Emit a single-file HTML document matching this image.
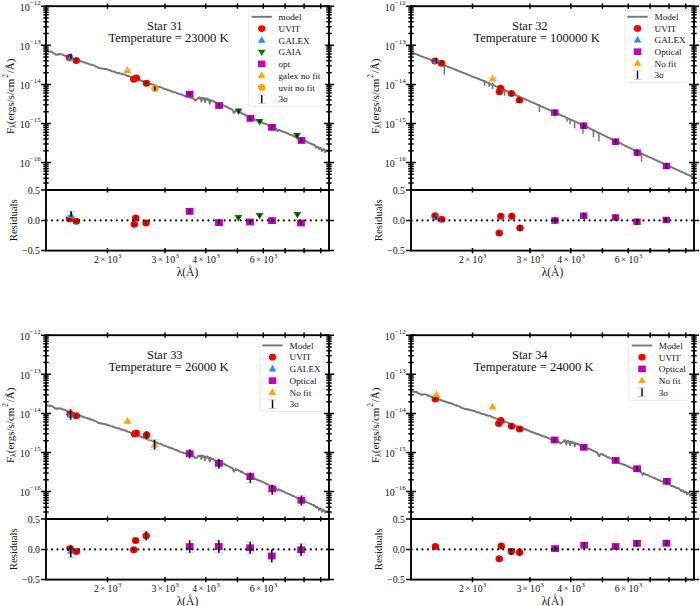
<!DOCTYPE html>
<html><head><meta charset="utf-8"><style>html,body{margin:0;padding:0;background:#fff;width:700px;height:606px;overflow:hidden}svg{display:block}</style></head>
<body><svg width="700" height="606" viewBox="0 0 700 606"><rect width="700" height="606" fill="#fff"/>
<polyline points="46.0,51.2 46.6,51.1 47.2,51.5 47.8,51.2 48.4,51.6 49.0,51.5 49.6,51.4 50.2,51.7 50.8,51.5 51.4,51.8 52.0,51.8 52.6,52.2 53.2,52.8 53.8,53.5 54.4,53.4 55.0,53.9 55.6,54.5 56.2,54.8 56.8,54.5 57.4,54.3 58.0,54.7 58.6,54.0 59.2,54.5 59.8,54.0 60.4,53.9 61.0,53.9 61.6,54.2 62.2,54.8 62.8,54.6 63.4,55.2 64.0,55.4 64.6,55.5 65.2,55.9 65.8,55.8 66.4,56.0 67.0,56.3 67.6,56.9 68.2,56.9 68.8,57.0 69.4,57.4 70.0,57.5 70.6,57.6 71.2,58.2 71.8,58.3 72.4,58.2 73.0,58.6 73.6,58.8 74.2,59.2 74.8,59.3 75.4,59.2 76.0,59.9 76.6,59.5 77.2,59.9 77.8,60.3 78.4,60.1 79.0,60.6 79.6,60.4 80.2,61.1 80.8,61.4 81.4,61.4 82.0,61.8 82.6,61.6 83.2,62.1 83.8,62.2 84.4,62.4 85.0,62.5 85.6,63.0 86.2,63.3 86.8,63.2 87.4,63.5 88.0,63.3 88.6,63.9 89.2,64.1 89.8,64.5 90.4,64.6 91.0,64.4 91.6,64.7 92.2,65.1 92.8,64.9 93.4,65.4 94.0,65.4 94.6,65.6 95.2,65.9 95.8,66.7 96.4,66.5 97.0,66.9 97.6,67.3 98.2,68.0 98.8,67.6 99.4,68.0 100.0,68.2 100.6,68.5 101.2,68.5 101.8,68.7 102.4,68.4 103.0,68.6 103.6,68.6 104.2,69.1 104.8,69.2 105.4,68.8 106.0,69.0 106.6,69.2 107.2,69.4 107.8,69.7 108.4,70.0 109.0,70.0 109.6,70.0 110.2,70.5 110.8,70.6 111.4,70.9 112.0,71.4 112.6,71.4 113.2,71.5 113.8,71.7 114.4,72.0 115.0,71.7 115.6,72.5 116.2,72.6 116.8,72.8 117.4,73.0 118.0,72.9 118.6,73.1 119.2,73.0 119.8,73.6 120.4,73.4 121.0,73.6 121.6,73.8 122.2,74.0 122.8,74.3 123.4,74.3 124.0,74.4 124.6,74.7 125.2,74.9 125.8,75.2 126.4,75.2 127.0,76.0 127.6,76.0 128.2,75.9 128.8,76.2 129.4,76.5 130.0,76.7 130.6,76.7 131.2,77.4 131.8,77.8 132.4,77.6 133.0,77.8 133.6,77.7 134.2,78.0 134.8,78.3 135.4,78.5 136.0,79.1 136.6,78.8 137.2,79.0 137.8,79.8 138.4,79.7 139.0,79.7 139.6,80.1 140.2,80.0 140.8,80.6 141.4,81.1 142.0,81.2 142.6,81.3 143.2,81.2 143.8,81.5 144.4,81.5 145.0,82.2 145.6,82.2 146.2,82.6 146.8,82.5 147.4,82.6 148.0,83.2 148.6,83.6 149.2,83.7 149.8,83.9 150.4,84.1 151.0,84.2 151.6,84.1 152.2,84.5 152.8,84.6 153.4,84.6 154.0,84.8 154.6,85.2 155.2,85.4 155.8,85.9 156.4,86.3 157.0,86.1 157.6,86.7 158.2,86.9 158.8,87.1 159.4,86.9 160.0,87.0 160.6,87.2 161.2,87.4 161.8,87.6 162.4,88.1 163.0,88.5 163.6,88.7 164.2,88.6 164.8,89.0 165.4,89.3 166.0,89.0 166.6,89.6 167.2,90.0 167.8,90.1 168.4,90.3 169.0,90.3 169.6,90.3 170.2,90.9 170.8,90.8 171.4,91.4 172.0,91.7 172.6,91.5 173.2,91.7 173.8,92.3 174.4,92.3 175.0,92.2 175.6,92.3 176.2,92.6 176.8,93.3 177.4,93.4 178.0,93.2 178.6,93.9 179.2,94.2 179.8,94.2 180.4,94.2 181.0,94.5 181.6,94.4 182.2,94.6 182.8,95.4 183.4,95.4 184.0,95.5 184.6,96.0 185.2,95.9 185.8,96.4 186.4,96.5 187.0,96.3 187.6,96.5 188.2,96.7 188.8,96.8 189.4,97.3 190.0,97.2 190.6,97.5 191.2,97.5 191.8,98.2 192.4,98.0 193.0,98.3 193.6,98.6 194.2,99.4 194.8,99.7 195.4,100.6 196.0,100.3 196.6,99.8 197.2,99.2 197.8,98.3 198.4,98.2 199.0,97.8 199.6,97.3 200.2,97.6 200.8,97.8 201.4,101.5 202.0,98.4 202.6,97.9 203.2,97.8 203.8,98.1 204.4,99.5 205.0,102.3 205.6,98.2 206.2,98.7 206.8,98.6 207.4,98.7 208.0,99.2 208.6,99.2 209.2,100.8 209.8,103.7 210.4,100.2 211.0,100.1 211.6,100.5 212.2,100.7 212.8,100.9 213.4,101.3 214.0,101.4 214.6,101.8 215.2,102.1 215.8,102.8 216.4,103.0 217.0,103.5 217.6,103.9 218.2,103.8 218.8,104.3 219.4,104.8 220.0,104.9 220.6,104.5 221.2,104.7 221.8,105.0 222.4,104.9 223.0,105.2 223.6,105.2 224.2,105.8 224.8,106.2 225.4,106.5 226.0,106.3 226.6,107.0 227.2,107.3 227.8,107.2 228.4,108.1 229.0,108.4 229.6,108.2 230.2,109.0 230.8,108.8 231.4,109.1 232.0,109.6 232.6,110.2 233.2,111.2 233.8,112.9 234.4,112.8 235.0,111.5 235.6,110.3 236.2,110.6 236.8,111.1 237.4,110.9 238.0,111.4 238.6,111.7 239.2,111.7 239.8,112.2 240.4,112.7 241.0,112.9 241.6,112.9 242.2,113.8 242.8,114.0 243.4,114.4 244.0,114.1 244.6,114.5 245.2,114.7 245.8,115.5 246.4,115.4 247.0,115.6 247.6,116.1 248.2,116.8 248.8,117.0 249.4,116.9 250.0,117.2 250.6,118.0 251.2,118.0 251.8,118.4 252.4,118.3 253.0,118.6 253.6,119.3 254.2,119.4 254.8,119.4 255.4,120.2 256.0,120.3 256.6,120.6 257.2,120.3 257.8,121.1 258.4,120.8 259.0,121.6 259.6,121.5 260.2,121.7 260.8,122.1 261.4,122.6 262.0,122.3 262.6,122.5 263.2,123.0 263.8,123.1 264.4,123.3 265.0,123.6 265.6,123.7 266.2,124.1 266.8,124.4 267.4,124.7 268.0,125.3 268.6,125.2 269.2,125.6 269.8,125.7 270.4,126.0 271.0,126.1 271.6,126.5 272.2,126.6 272.8,127.3 273.4,127.5 274.0,127.5 274.6,127.9 275.2,128.5 275.8,128.2 276.4,129.3 277.0,130.2 277.6,131.1 278.2,130.7 278.8,129.7 279.4,130.0 280.0,130.4 280.6,130.9 281.2,130.7 281.8,131.3 282.4,131.5 283.0,131.7 283.6,131.8 284.2,132.0 284.8,132.1 285.4,132.4 286.0,132.6 286.6,133.3 287.2,133.2 287.8,133.4 288.4,133.6 289.0,134.4 289.6,134.7 290.2,134.8 290.8,134.8 291.4,135.1 292.0,135.4 292.6,135.7 293.2,135.8 293.8,136.2 294.4,136.4 295.0,137.1 295.6,137.4 296.2,137.3 296.8,137.4 297.4,138.1 298.0,137.9 298.6,138.2 299.2,138.2 299.8,138.8 300.4,139.1 301.0,139.4 301.6,139.4 302.2,139.9 302.8,139.8 303.4,140.2 304.0,140.4 304.6,140.8 305.2,140.8 305.8,141.1 306.4,141.5 307.0,141.8 307.6,142.3 308.2,142.5 308.8,142.9 309.4,143.1 310.0,143.4 310.6,143.8 311.2,143.7 311.8,143.9 312.4,144.6 313.0,144.3 313.6,145.0 314.2,145.2 314.8,145.0 315.4,146.4 316.0,147.6 316.6,146.8 317.2,146.6 317.8,146.9 318.4,147.5 319.0,149.2 319.6,148.3 320.2,147.9 320.8,148.2 321.4,149.5 322.0,151.1 322.6,150.0 323.2,149.1 323.8,149.4 324.4,150.3 325.0,152.0 325.6,150.8 326.2,150.2 326.8,150.3 327.4,151.0 328.0,151.1 328.6,151.4" fill="none" stroke="#777777" stroke-width="1.9" stroke-linejoin="round"/>
<polyline points="199.0,99.1 199.5,98.8 200.0,98.6 200.5,98.4 201.0,98.6 201.5,98.7 202.0,98.8 202.5,98.9 203.0,99.0 203.5,99.1 204.0,99.2 204.5,99.3 205.0,99.5 205.5,99.6 206.0,99.7 206.5,99.8 207.0,99.9 207.5,100.0 208.0,100.1 208.5,100.3 209.0,100.5 209.5,100.7 210.0,100.9 210.5,101.1 211.0,101.3 211.5,101.5" fill="none" stroke="#777777" stroke-width="1.4"/>
<ellipse cx="69.40" cy="57.60" rx="3.75" ry="3.50" fill="#ff0000"/><line x1="69.40" y1="55.50" x2="69.40" y2="59.70" stroke="#000" stroke-width="1.5"/>
<path d="M70.90,53.19 L74.61,59.65 L67.20,59.65Z" fill="#1e90ff"/><line x1="70.90" y1="53.70" x2="70.90" y2="58.70" stroke="#000" stroke-width="1.5"/>
<ellipse cx="76.30" cy="60.40" rx="3.75" ry="3.50" fill="#ff0000"/><line x1="76.30" y1="58.30" x2="76.30" y2="62.50" stroke="#000" stroke-width="1.5"/>
<path d="M127.50,66.08 L131.40,72.88 L123.60,72.88Z" fill="#ffa500"/>
<ellipse cx="133.80" cy="79.30" rx="3.75" ry="3.50" fill="#ff0000"/><line x1="133.80" y1="77.80" x2="133.80" y2="80.80" stroke="#000" stroke-width="1.5"/>
<ellipse cx="136.40" cy="78.00" rx="3.75" ry="3.50" fill="#ff0000"/><line x1="136.40" y1="76.80" x2="136.40" y2="79.20" stroke="#000" stroke-width="1.5"/>
<ellipse cx="146.50" cy="83.30" rx="3.75" ry="3.50" fill="#ff0000"/><line x1="146.50" y1="81.20" x2="146.50" y2="85.40" stroke="#000" stroke-width="1.5"/>
<ellipse cx="154.90" cy="88.40" rx="3.75" ry="3.50" fill="#ffa500"/><line x1="154.90" y1="86.30" x2="154.90" y2="90.50" stroke="#000" stroke-width="1.5"/>
<rect x="185.70" y="90.70" width="7.80" height="6.80" fill="#bf00bf"/><line x1="189.60" y1="92.00" x2="189.60" y2="96.20" stroke="#000" stroke-width="1.5"/>
<rect x="215.20" y="102.10" width="7.80" height="6.80" fill="#bf00bf"/><line x1="219.10" y1="103.40" x2="219.10" y2="107.60" stroke="#000" stroke-width="1.5"/>
<path d="M238.60,114.99 L242.50,108.39 L234.70,108.39Z" fill="#008000"/><line x1="238.60" y1="109.10" x2="238.60" y2="112.70" stroke="#000" stroke-width="1.5"/>
<rect x="246.50" y="115.00" width="7.80" height="6.80" fill="#bf00bf"/><line x1="250.40" y1="116.30" x2="250.40" y2="120.50" stroke="#000" stroke-width="1.5"/>
<path d="M259.60,125.59 L263.50,118.99 L255.70,118.99Z" fill="#008000"/><line x1="259.60" y1="119.70" x2="259.60" y2="123.30" stroke="#000" stroke-width="1.5"/>
<rect x="268.10" y="124.00" width="7.80" height="6.80" fill="#bf00bf"/><line x1="272.00" y1="125.30" x2="272.00" y2="129.50" stroke="#000" stroke-width="1.5"/>
<path d="M297.00,139.59 L300.90,132.99 L293.10,132.99Z" fill="#008000"/><line x1="297.00" y1="133.70" x2="297.00" y2="137.30" stroke="#000" stroke-width="1.5"/>
<rect x="297.60" y="137.10" width="7.80" height="6.80" fill="#bf00bf"/><line x1="301.50" y1="138.40" x2="301.50" y2="142.60" stroke="#000" stroke-width="1.5"/>
<path d="M123.5,69.3H131.5" stroke="#ccc" stroke-width="0.8"/>
<ellipse cx="69.50" cy="218.70" rx="3.75" ry="3.50" fill="#ff0000"/><line x1="69.50" y1="217.20" x2="69.50" y2="220.20" stroke="#000" stroke-width="1.5"/>
<path d="M67.00,211.50H75.40M67.00,216.50H75.40" stroke="#c8c8c8" stroke-width="0.8"/><path d="M71.20,211.49 L74.91,217.95 L67.50,217.95Z" fill="#1e90ff"/><line x1="71.20" y1="211.50" x2="71.20" y2="216.50" stroke="#000" stroke-width="1.5"/>
<ellipse cx="76.30" cy="221.30" rx="3.75" ry="3.50" fill="#ff0000"/><line x1="76.30" y1="219.80" x2="76.30" y2="222.80" stroke="#000" stroke-width="1.5"/>
<ellipse cx="135.70" cy="217.90" rx="3.75" ry="3.50" fill="#ff0000"/><line x1="135.70" y1="216.40" x2="135.70" y2="219.40" stroke="#000" stroke-width="1.5"/>
<ellipse cx="134.30" cy="224.30" rx="3.75" ry="3.50" fill="#ff0000"/><line x1="134.30" y1="222.80" x2="134.30" y2="225.80" stroke="#000" stroke-width="1.5"/>
<ellipse cx="146.10" cy="223.10" rx="3.75" ry="3.50" fill="#ff0000"/><line x1="146.10" y1="221.00" x2="146.10" y2="225.20" stroke="#000" stroke-width="1.5"/>
<rect x="185.70" y="208.00" width="7.80" height="6.80" fill="#bf00bf"/><line x1="189.60" y1="209.30" x2="189.60" y2="213.50" stroke="#000" stroke-width="1.5"/>
<rect x="215.10" y="219.20" width="7.80" height="6.80" fill="#bf00bf"/><line x1="219.00" y1="220.50" x2="219.00" y2="224.70" stroke="#000" stroke-width="1.5"/>
<path d="M238.40,221.69 L242.30,215.09 L234.50,215.09Z" fill="#008000"/><line x1="238.40" y1="216.10" x2="238.40" y2="219.10" stroke="#000" stroke-width="1.5"/>
<rect x="246.10" y="218.60" width="7.80" height="6.80" fill="#bf00bf"/><line x1="250.00" y1="219.90" x2="250.00" y2="224.10" stroke="#000" stroke-width="1.5"/>
<path d="M259.60,219.49 L263.50,212.89 L255.70,212.89Z" fill="#008000"/><line x1="259.60" y1="213.90" x2="259.60" y2="216.90" stroke="#000" stroke-width="1.5"/>
<rect x="268.10" y="217.20" width="7.80" height="6.80" fill="#bf00bf"/><line x1="272.00" y1="218.50" x2="272.00" y2="222.70" stroke="#000" stroke-width="1.5"/>
<path d="M297.40,218.49 L301.30,211.89 L293.50,211.89Z" fill="#008000"/><line x1="297.40" y1="212.90" x2="297.40" y2="215.90" stroke="#000" stroke-width="1.5"/>
<rect x="297.10" y="219.60" width="7.80" height="6.80" fill="#bf00bf"/><line x1="301.00" y1="220.90" x2="301.00" y2="225.10" stroke="#000" stroke-width="1.5"/>
<g transform="translate(0,0)">
<rect x="46.0" y="6.2" width="283.0" height="244.4" fill="none" stroke="#000" stroke-width="1.9"/>
<line x1="46.0" y1="190.0" x2="329.0" y2="190.0" stroke="#000" stroke-width="1.9"/>
<path d="M41.0,6.20H51.0M324.0,6.20H334.0M43.3,33.53H48.7M326.3,33.53H331.7M43.3,26.64H48.7M326.3,26.64H331.7M43.3,21.76H48.7M326.3,21.76H331.7M43.3,17.97H48.7M326.3,17.97H331.7M43.3,14.87H48.7M326.3,14.87H331.7M43.3,12.26H48.7M326.3,12.26H331.7M43.3,9.99H48.7M326.3,9.99H331.7M43.3,7.99H48.7M326.3,7.99H331.7M41.0,45.30H51.0M324.0,45.30H334.0M43.3,72.63H48.7M326.3,72.63H331.7M43.3,65.74H48.7M326.3,65.74H331.7M43.3,60.86H48.7M326.3,60.86H331.7M43.3,57.07H48.7M326.3,57.07H331.7M43.3,53.97H48.7M326.3,53.97H331.7M43.3,51.36H48.7M326.3,51.36H331.7M43.3,49.09H48.7M326.3,49.09H331.7M43.3,47.09H48.7M326.3,47.09H331.7M41.0,84.40H51.0M324.0,84.40H334.0M43.3,111.73H48.7M326.3,111.73H331.7M43.3,104.84H48.7M326.3,104.84H331.7M43.3,99.96H48.7M326.3,99.96H331.7M43.3,96.17H48.7M326.3,96.17H331.7M43.3,93.07H48.7M326.3,93.07H331.7M43.3,90.46H48.7M326.3,90.46H331.7M43.3,88.19H48.7M326.3,88.19H331.7M43.3,86.19H48.7M326.3,86.19H331.7M41.0,123.50H51.0M324.0,123.50H334.0M43.3,150.83H48.7M326.3,150.83H331.7M43.3,143.94H48.7M326.3,143.94H331.7M43.3,139.06H48.7M326.3,139.06H331.7M43.3,135.27H48.7M326.3,135.27H331.7M43.3,132.17H48.7M326.3,132.17H331.7M43.3,129.56H48.7M326.3,129.56H331.7M43.3,127.29H48.7M326.3,127.29H331.7M43.3,125.29H48.7M326.3,125.29H331.7M41.0,162.60H51.0M324.0,162.60H334.0M43.3,183.04H48.7M326.3,183.04H331.7M43.3,178.16H48.7M326.3,178.16H331.7M43.3,174.37H48.7M326.3,174.37H331.7M43.3,171.27H48.7M326.3,171.27H331.7M43.3,168.66H48.7M326.3,168.66H331.7M43.3,166.39H48.7M326.3,166.39H331.7M43.3,164.39H48.7M326.3,164.39H331.7M107.50,3.6V8.8M107.50,187.4V192.6M107.50,248.0V253.2M164.99,3.6V8.8M164.99,187.4V192.6M164.99,248.0V253.2M205.79,3.6V8.8M205.79,187.4V192.6M205.79,248.0V253.2M237.43,3.6V8.8M237.43,187.4V192.6M237.43,248.0V253.2M263.28,3.6V8.8M263.28,187.4V192.6M263.28,248.0V253.2M285.14,3.6V8.8M285.14,187.4V192.6M285.14,248.0V253.2M304.07,3.6V8.8M304.07,187.4V192.6M304.07,248.0V253.2M320.77,3.6V8.8M320.77,187.4V192.6M320.77,248.0V253.2M41.0,190.0H46.0M41.0,220.4H46.0M41.0,250.6H46.0M329.0,220.4H334.0M329.0,190.0H334.0M329.0,250.6H334.0" stroke="#000" stroke-width="1.5" fill="none"/>
<text x="29.8" y="10.70" text-anchor="end" style="font-family:'Liberation Serif',serif;font-size:10px" fill="#111">10</text><text x="29.8" y="5.00" style="font-family:'Liberation Serif',serif;font-size:7px" fill="#111">−12</text>
<text x="29.8" y="49.80" text-anchor="end" style="font-family:'Liberation Serif',serif;font-size:10px" fill="#111">10</text><text x="29.8" y="44.10" style="font-family:'Liberation Serif',serif;font-size:7px" fill="#111">−13</text>
<text x="29.8" y="88.90" text-anchor="end" style="font-family:'Liberation Serif',serif;font-size:10px" fill="#111">10</text><text x="29.8" y="83.20" style="font-family:'Liberation Serif',serif;font-size:7px" fill="#111">−14</text>
<text x="29.8" y="128.00" text-anchor="end" style="font-family:'Liberation Serif',serif;font-size:10px" fill="#111">10</text><text x="29.8" y="122.30" style="font-family:'Liberation Serif',serif;font-size:7px" fill="#111">−15</text>
<text x="29.8" y="167.10" text-anchor="end" style="font-family:'Liberation Serif',serif;font-size:10px" fill="#111">10</text><text x="29.8" y="161.40" style="font-family:'Liberation Serif',serif;font-size:7px" fill="#111">−16</text>
<text x="40.0" y="193.50" text-anchor="end" style="font-family:'Liberation Serif',serif;font-size:9.9px" fill="#111">0.5</text>
<text x="40.0" y="223.90" text-anchor="end" style="font-family:'Liberation Serif',serif;font-size:9.9px" fill="#111">0.0</text>
<text x="40.0" y="254.10" text-anchor="end" style="font-family:'Liberation Serif',serif;font-size:9.9px" fill="#111">−0.5</text>
<text x="94.00" y="262.60" style="font-family:'Liberation Serif',serif;font-size:9.8px" fill="#111">2</text><text x="100.30" y="262.00" style="font-family:'Liberation Serif',serif;font-size:9px" fill="#111">×</text><text x="107.60" y="262.60" style="font-family:'Liberation Serif',serif;font-size:9.8px;letter-spacing:0.35px" fill="#111">10</text><text x="118.10" y="258.00" style="font-family:'Liberation Serif',serif;font-size:6.6px" fill="#111">3</text>
<text x="151.49" y="262.60" style="font-family:'Liberation Serif',serif;font-size:9.8px" fill="#111">3</text><text x="157.79" y="262.00" style="font-family:'Liberation Serif',serif;font-size:9px" fill="#111">×</text><text x="165.09" y="262.60" style="font-family:'Liberation Serif',serif;font-size:9.8px;letter-spacing:0.35px" fill="#111">10</text><text x="175.59" y="258.00" style="font-family:'Liberation Serif',serif;font-size:6.6px" fill="#111">3</text>
<text x="192.29" y="262.60" style="font-family:'Liberation Serif',serif;font-size:9.8px" fill="#111">4</text><text x="198.59" y="262.00" style="font-family:'Liberation Serif',serif;font-size:9px" fill="#111">×</text><text x="205.89" y="262.60" style="font-family:'Liberation Serif',serif;font-size:9.8px;letter-spacing:0.35px" fill="#111">10</text><text x="216.39" y="258.00" style="font-family:'Liberation Serif',serif;font-size:6.6px" fill="#111">3</text>
<text x="249.78" y="262.60" style="font-family:'Liberation Serif',serif;font-size:9.8px" fill="#111">6</text><text x="256.08" y="262.00" style="font-family:'Liberation Serif',serif;font-size:9px" fill="#111">×</text><text x="263.38" y="262.60" style="font-family:'Liberation Serif',serif;font-size:9.8px;letter-spacing:0.35px" fill="#111">10</text><text x="273.88" y="258.00" style="font-family:'Liberation Serif',serif;font-size:6.6px" fill="#111">3</text>
<text x="187.5" y="275.5" text-anchor="middle" style="font-family:'Liberation Serif',serif;font-size:11.5px" fill="#111">λ(Å)</text>
<text transform="translate(17,220.2) rotate(-90)" text-anchor="middle" style="font-family:'Liberation Serif',serif;font-size:10.8px" fill="#111">Residuals</text>
<text transform="translate(13.5,96.3) rotate(-90)" text-anchor="middle" style="font-family:'Liberation Serif',serif;font-size:11px" fill="#111">F<tspan dy="2.3" style="font-size:7.6px">λ</tspan><tspan dy="-2.3">(ergs/s/cm</tspan><tspan dy="-6" dx="0.8" style="font-size:7.6px">2</tspan><tspan dy="6" dx="0.8">/Å)</tspan></text>
<text x="147" y="30" style="font-family:'Liberation Serif',serif;font-size:12.45px" fill="#111">Star 31</text>
<text x="108.4" y="42" style="font-family:'Liberation Serif',serif;font-size:12.55px" fill="#111">Temperature = 23000 K</text>
<rect x="248.7" y="10.2" width="76.30000000000001" height="96.2" rx="2" fill="#fff" fill-opacity="0.85" stroke="#e6e6e6" stroke-width="0.8"/>
<line x1="251.5" y1="16.8" x2="271.9" y2="16.8" stroke="#777777" stroke-width="1.9"/>
<text x="278.5" y="20.1" style="font-family:'Liberation Serif',serif;font-size:9.2px" fill="#111">model</text>
<ellipse cx="261.70" cy="28.57" rx="3.64" ry="3.40" fill="#ff0000"/>
<text x="278.5" y="31.87" style="font-family:'Liberation Serif',serif;font-size:9.2px" fill="#111">UVIT</text>
<path d="M261.70,36.25 L265.48,42.85 L257.92,42.85Z" fill="#1e90ff"/>
<text x="278.5" y="43.64" style="font-family:'Liberation Serif',serif;font-size:9.2px" fill="#111">GALEX</text>
<path d="M261.70,56.08 L265.48,49.68 L257.92,49.68Z" fill="#008000"/>
<text x="278.5" y="55.41" style="font-family:'Liberation Serif',serif;font-size:9.2px" fill="#111">GAIA</text>
<rect x="257.92" y="60.58" width="7.57" height="6.60" fill="#bf00bf"/>
<text x="278.5" y="67.17999999999999" style="font-family:'Liberation Serif',serif;font-size:9.2px" fill="#111">opt</text>
<path d="M261.70,71.56 L265.48,78.16 L257.92,78.16Z" fill="#ffa500"/>
<text x="278.5" y="78.94999999999999" style="font-family:'Liberation Serif',serif;font-size:9.2px" fill="#111">galex no fit</text>
<ellipse cx="261.70" cy="87.42" rx="3.64" ry="3.40" fill="#ffa500"/>
<text x="278.5" y="90.72" style="font-family:'Liberation Serif',serif;font-size:9.2px" fill="#111">uvit no fit</text>
<line x1="261.7" y1="94.89" x2="261.7" y2="103.49" stroke="#000" stroke-width="1.4"/><path d="M257.7,94.89H265.7M257.7,103.49H265.7" stroke="#bbb" stroke-width="0.8"/>
<text x="278.5" y="102.49" style="font-family:'Liberation Serif',serif;font-size:9.2px" fill="#111">3σ</text>
</g>
<polyline points="411.0,52.1 411.6,52.4 412.2,52.6 412.8,52.7 413.4,53.1 414.0,53.4 414.6,53.5 415.2,53.8 415.8,54.1 416.4,54.1 417.0,54.6 417.6,54.6 418.2,54.8 418.8,55.1 419.4,55.5 420.0,55.6 420.6,56.0 421.2,56.3 421.8,56.4 422.4,56.6 423.0,56.9 423.6,57.2 424.2,57.4 424.8,57.6 425.4,57.9 426.0,57.9 426.6,58.2 427.2,58.5 427.8,58.8 428.4,58.9 429.0,59.3 429.6,59.3 430.2,59.6 430.8,59.9 431.4,60.2 432.0,60.5 432.6,60.7 433.2,60.8 433.8,61.2 434.4,61.4 435.0,61.6 435.6,61.8 436.2,62.2 436.8,62.3 437.4,62.7 438.0,62.9 438.6,62.9 439.2,63.3 439.8,63.6 440.4,63.9 441.0,64.0 441.6,64.2 442.2,64.4 442.8,64.9 443.4,64.9 444.0,65.2 444.6,65.3 445.2,65.7 445.8,66.0 446.4,66.0 447.0,66.5 447.6,66.6 448.2,67.0 448.8,67.2 449.4,67.3 450.0,67.7 450.6,67.8 451.2,67.9 451.8,68.1 452.4,68.5 453.0,68.7 453.6,68.9 454.2,69.1 454.8,69.4 455.4,69.7 456.0,70.1 456.6,70.0 457.2,70.5 457.8,70.8 458.4,70.8 459.0,71.3 459.6,71.4 460.2,71.7 460.8,71.8 461.4,72.1 462.0,72.3 462.6,72.7 463.2,72.8 463.8,73.0 464.4,73.3 465.0,73.4 465.6,73.6 466.2,73.9 466.8,74.3 467.4,74.4 468.0,74.8 468.6,74.9 469.2,75.1 469.8,75.4 470.4,75.6 471.0,75.9 471.6,76.3 472.2,76.5 472.8,76.7 473.4,76.9 474.0,77.2 474.6,77.5 475.2,77.6 475.8,77.9 476.4,77.9 477.0,78.3 477.6,78.5 478.2,78.8 478.8,79.0 479.4,79.2 480.0,79.3 480.6,79.9 481.2,79.9 481.8,80.2 482.4,80.4 483.0,80.7 483.6,81.1 484.2,81.4 484.8,81.4 485.4,81.8 486.0,82.0 486.6,82.3 487.2,82.5 487.8,82.7 488.4,83.0 489.0,83.2 489.6,83.7 490.2,83.8 490.8,84.0 491.4,84.5 492.0,84.7 492.6,84.8 493.2,85.0 493.8,85.3 494.4,85.5 495.0,85.8 495.6,86.0 496.2,86.3 496.8,86.6 497.4,86.9 498.0,87.3 498.6,87.5 499.2,87.6 499.8,87.9 500.4,88.2 501.0,88.4 501.6,88.7 502.2,88.8 502.8,89.2 503.4,89.7 504.0,89.7 504.6,90.1 505.2,90.4 505.8,90.7 506.4,90.8 507.0,91.0 507.6,91.3 508.2,91.6 508.8,91.9 509.4,92.3 510.0,92.6 510.6,92.8 511.2,92.8 511.8,93.1 512.4,93.6 513.0,93.9 513.6,94.1 514.2,94.4 514.8,94.4 515.4,94.8 516.0,95.3 516.6,95.5 517.2,95.8 517.8,96.1 518.4,96.1 519.0,96.3 519.6,96.6 520.2,97.0 520.8,97.3 521.4,97.7 522.0,97.9 522.6,98.1 523.2,98.4 523.8,98.6 524.4,98.9 525.0,99.0 525.6,99.5 526.2,99.6 526.8,100.1 527.4,100.2 528.0,100.4 528.6,100.6 529.2,100.9 529.8,101.3 530.4,101.6 531.0,101.7 531.6,101.9 532.2,102.4 532.8,102.6 533.4,102.8 534.0,103.1 534.6,103.4 535.2,103.5 535.8,103.9 536.4,104.2 537.0,104.6 537.6,104.8 538.2,105.1 538.8,105.3 539.4,105.5 540.0,105.7 540.6,106.2 541.2,106.4 541.8,106.6 542.4,106.7 543.0,107.2 543.6,107.5 544.2,107.7 544.8,107.9 545.4,108.3 546.0,108.6 546.6,108.7 547.2,108.9 547.8,109.2 548.4,109.5 549.0,109.9 549.6,110.0 550.2,110.5 550.8,110.7 551.4,110.9 552.0,111.1 552.6,111.6 553.2,111.6 553.8,112.1 554.4,112.2 555.0,112.4 555.6,112.8 556.2,113.0 556.8,113.5 557.4,113.6 558.0,113.8 558.6,114.0 559.2,114.4 559.8,114.7 560.4,115.1 561.0,115.1 561.6,115.5 562.2,115.7 562.8,116.2 563.4,116.2 564.0,116.4 564.6,116.7 565.2,117.1 565.8,117.5 566.4,117.8 567.0,118.0 567.6,118.4 568.2,118.6 568.8,118.7 569.4,118.9 570.0,119.4 570.6,119.6 571.2,119.7 571.8,120.2 572.4,120.3 573.0,120.6 573.6,120.9 574.2,121.1 574.8,121.3 575.4,121.7 576.0,122.0 576.6,122.4 577.2,122.4 577.8,123.0 578.4,123.0 579.0,123.3 579.6,123.7 580.2,124.0 580.8,124.2 581.4,124.3 582.0,124.7 582.6,125.0 583.2,125.4 583.8,125.5 584.4,125.8 585.0,126.3 585.6,126.3 586.2,126.7 586.8,127.1 587.4,127.4 588.0,127.5 588.6,127.7 589.2,128.0 589.8,128.6 590.4,128.7 591.0,129.1 591.6,129.5 592.2,129.6 592.8,129.9 593.4,130.4 594.0,130.6 594.6,130.7 595.2,131.2 595.8,131.3 596.4,131.6 597.0,131.8 597.6,132.4 598.2,132.7 598.8,132.9 599.4,133.3 600.0,133.3 600.6,133.7 601.2,134.0 601.8,134.5 602.4,134.8 603.0,134.9 603.6,135.1 604.2,135.5 604.8,135.8 605.4,136.2 606.0,136.3 606.6,136.8 607.2,137.0 607.8,137.3 608.4,137.6 609.0,137.9 609.6,138.1 610.2,138.4 610.8,138.7 611.4,139.1 612.0,139.2 612.6,139.5 613.2,140.0 613.8,140.1 614.4,140.3 615.0,140.6 615.6,141.1 616.2,141.3 616.8,141.8 617.4,142.0 618.0,142.4 618.6,142.4 619.2,142.7 619.8,143.0 620.4,143.4 621.0,143.7 621.6,144.0 622.2,144.2 622.8,144.5 623.4,144.9 624.0,145.2 624.6,145.5 625.2,145.8 625.8,146.1 626.4,146.2 627.0,146.7 627.6,146.8 628.2,147.2 628.8,147.5 629.4,147.9 630.0,148.0 630.6,148.3 631.2,148.6 631.8,148.9 632.4,149.4 633.0,149.6 633.6,149.8 634.2,150.1 634.8,150.6 635.4,150.7 636.0,150.9 636.6,151.4 637.2,151.6 637.8,152.0 638.4,152.0 639.0,152.4 639.6,152.8 640.2,153.1 640.8,153.4 641.4,153.4 642.0,153.7 642.6,153.9 643.2,154.2 643.8,154.8 644.4,154.9 645.0,155.3 645.6,155.4 646.2,155.8 646.8,156.0 647.4,156.2 648.0,156.6 648.6,156.9 649.2,157.0 649.8,157.4 650.4,157.7 651.0,157.8 651.6,158.1 652.2,158.3 652.8,158.6 653.4,158.9 654.0,159.3 654.6,159.6 655.2,159.7 655.8,160.0 656.4,160.3 657.0,160.7 657.6,160.8 658.2,161.1 658.8,161.4 659.4,161.8 660.0,162.0 660.6,162.2 661.2,162.5 661.8,162.8 662.4,163.1 663.0,163.4 663.6,163.6 664.2,163.8 664.8,164.3 665.4,164.5 666.0,164.7 666.6,165.0 667.2,165.5 667.8,165.5 668.4,165.9 669.0,166.1 669.6,166.4 670.2,166.8 670.8,167.1 671.4,167.2 672.0,167.4 672.6,167.8 673.2,168.0 673.8,168.2 674.4,168.7 675.0,168.8 675.6,169.2 676.2,169.4 676.8,169.8 677.4,169.9 678.0,170.1 678.6,170.4 679.2,170.8 679.8,171.1 680.4,171.4 681.0,171.5 681.6,171.9 682.2,172.1 682.8,172.4 683.4,172.6 684.0,172.9 684.6,173.2 685.2,173.6 685.8,173.7 686.4,174.0 687.0,174.4 687.6,174.7 688.2,174.8 688.8,175.0 689.4,175.5 690.0,175.8 690.6,175.9 691.2,176.1 691.8,176.6 692.4,176.7 693.0,177.2 693.6,177.4" fill="none" stroke="#777777" stroke-width="1.9" stroke-linejoin="round"/>
<line x1="444.3" y1="64" x2="444.3" y2="74.7" stroke="#777777" stroke-width="1.5"/><line x1="484.6" y1="80" x2="484.6" y2="86" stroke="#777777" stroke-width="1.5"/><line x1="489.1" y1="82" x2="489.1" y2="86.9" stroke="#777777" stroke-width="1.5"/><line x1="492.6" y1="83" x2="492.6" y2="88.9" stroke="#777777" stroke-width="1.5"/><line x1="504.6" y1="89" x2="504.6" y2="95.7" stroke="#777777" stroke-width="1.5"/><line x1="539.4" y1="104" x2="539.4" y2="112" stroke="#777777" stroke-width="1.5"/><line x1="567.1" y1="118" x2="567.1" y2="121.7" stroke="#777777" stroke-width="1.5"/><line x1="570" y1="119" x2="570" y2="124" stroke="#777777" stroke-width="1.5"/><line x1="574.6" y1="121" x2="574.6" y2="128.3" stroke="#777777" stroke-width="1.5"/><line x1="582.9" y1="124" x2="582.9" y2="133.7" stroke="#777777" stroke-width="1.5"/><line x1="593.4" y1="129" x2="593.4" y2="137.1" stroke="#777777" stroke-width="1.5"/><line x1="598.9" y1="132" x2="598.9" y2="141.4" stroke="#777777" stroke-width="1.5"/><line x1="641.6" y1="153" x2="641.6" y2="161.7" stroke="#777777" stroke-width="1.5"/>
<ellipse cx="435.00" cy="61.00" rx="3.75" ry="3.50" fill="#ff0000"/><line x1="435.00" y1="58.90" x2="435.00" y2="63.10" stroke="#000" stroke-width="1.5"/>
<path d="M436.40,57.19 L440.10,63.65 L432.69,63.65Z" fill="#1e90ff"/><line x1="436.40" y1="58.20" x2="436.40" y2="63.20" stroke="#000" stroke-width="1.5"/>
<ellipse cx="441.60" cy="63.30" rx="3.75" ry="3.50" fill="#ff0000"/><line x1="441.60" y1="61.20" x2="441.60" y2="65.40" stroke="#000" stroke-width="1.5"/>
<path d="M492.60,74.58 L496.50,81.38 L488.70,81.38Z" fill="#ffa500"/>
<ellipse cx="500.60" cy="88.30" rx="3.75" ry="3.50" fill="#ff0000"/><line x1="500.60" y1="86.50" x2="500.60" y2="90.10" stroke="#000" stroke-width="1.5"/>
<ellipse cx="499.40" cy="91.70" rx="3.75" ry="3.50" fill="#ff0000"/><line x1="499.40" y1="89.90" x2="499.40" y2="93.50" stroke="#000" stroke-width="1.5"/>
<ellipse cx="511.40" cy="93.40" rx="3.75" ry="3.50" fill="#ff0000"/><line x1="511.40" y1="91.30" x2="511.40" y2="95.50" stroke="#000" stroke-width="1.5"/>
<ellipse cx="519.40" cy="100.30" rx="3.75" ry="3.50" fill="#ff0000"/><line x1="519.40" y1="97.80" x2="519.40" y2="102.80" stroke="#000" stroke-width="1.5"/>
<rect x="551.09" y="109.37" width="7.41" height="6.46" fill="#bf00bf"/><line x1="554.80" y1="109.60" x2="554.80" y2="115.60" stroke="#000" stroke-width="1.5"/>
<rect x="580.00" y="122.47" width="7.41" height="6.46" fill="#bf00bf"/><line x1="583.70" y1="122.70" x2="583.70" y2="128.70" stroke="#000" stroke-width="1.5"/>
<rect x="611.89" y="138.47" width="7.41" height="6.46" fill="#bf00bf"/><line x1="615.60" y1="138.70" x2="615.60" y2="144.70" stroke="#000" stroke-width="1.5"/>
<rect x="633.50" y="149.37" width="7.41" height="6.46" fill="#bf00bf"/><line x1="637.20" y1="149.60" x2="637.20" y2="155.60" stroke="#000" stroke-width="1.5"/>
<rect x="662.79" y="162.77" width="7.41" height="6.46" fill="#bf00bf"/><line x1="666.50" y1="163.00" x2="666.50" y2="169.00" stroke="#000" stroke-width="1.5"/>
<path d="M488.6,77.4H496.6M515.4,103.5H523.4" stroke="#ccc" stroke-width="0.8"/>
<ellipse cx="435.00" cy="215.75" rx="3.75" ry="3.50" fill="#ff0000"/><line x1="435.00" y1="214.25" x2="435.00" y2="217.25" stroke="#000" stroke-width="1.5"/>
<path d="M436.25,214.21 L439.76,220.33 L432.74,220.33Z" fill="#1e90ff"/><line x1="436.25" y1="216.50" x2="436.25" y2="219.50" stroke="#000" stroke-width="1.5"/>
<ellipse cx="441.75" cy="219.25" rx="3.75" ry="3.50" fill="#ff0000"/><line x1="441.75" y1="218.05" x2="441.75" y2="220.45" stroke="#000" stroke-width="1.5"/>
<ellipse cx="500.75" cy="216.25" rx="3.75" ry="3.50" fill="#ff0000"/><line x1="500.75" y1="214.25" x2="500.75" y2="218.25" stroke="#000" stroke-width="1.5"/>
<ellipse cx="499.25" cy="233.00" rx="3.75" ry="3.50" fill="#ff0000"/><line x1="499.25" y1="231.50" x2="499.25" y2="234.50" stroke="#000" stroke-width="1.5"/>
<ellipse cx="511.75" cy="216.25" rx="3.75" ry="3.50" fill="#ff0000"/><line x1="511.75" y1="214.25" x2="511.75" y2="218.25" stroke="#000" stroke-width="1.5"/>
<ellipse cx="520.00" cy="228.00" rx="3.75" ry="3.50" fill="#ff0000"/><line x1="520.00" y1="225.00" x2="520.00" y2="231.00" stroke="#000" stroke-width="1.5"/>
<rect x="551.29" y="217.27" width="7.41" height="6.46" fill="#bf00bf"/><line x1="555.00" y1="217.50" x2="555.00" y2="223.50" stroke="#000" stroke-width="1.5"/>
<rect x="580.04" y="212.52" width="7.41" height="6.46" fill="#bf00bf"/><line x1="583.75" y1="212.75" x2="583.75" y2="218.75" stroke="#000" stroke-width="1.5"/>
<rect x="611.79" y="214.27" width="7.41" height="6.46" fill="#bf00bf"/><line x1="615.50" y1="214.50" x2="615.50" y2="220.50" stroke="#000" stroke-width="1.5"/>
<rect x="633.29" y="218.52" width="7.41" height="6.46" fill="#bf00bf"/><line x1="637.00" y1="218.75" x2="637.00" y2="224.75" stroke="#000" stroke-width="1.5"/>
<rect x="662.54" y="216.77" width="7.41" height="6.46" fill="#bf00bf"/><line x1="666.25" y1="217.00" x2="666.25" y2="223.00" stroke="#000" stroke-width="1.5"/>
<g transform="translate(365,0)">
<rect x="46.0" y="6.2" width="283.0" height="244.4" fill="none" stroke="#000" stroke-width="1.9"/>
<line x1="46.0" y1="190.0" x2="329.0" y2="190.0" stroke="#000" stroke-width="1.9"/>
<path d="M41.0,6.20H51.0M324.0,6.20H334.0M43.3,33.53H48.7M326.3,33.53H331.7M43.3,26.64H48.7M326.3,26.64H331.7M43.3,21.76H48.7M326.3,21.76H331.7M43.3,17.97H48.7M326.3,17.97H331.7M43.3,14.87H48.7M326.3,14.87H331.7M43.3,12.26H48.7M326.3,12.26H331.7M43.3,9.99H48.7M326.3,9.99H331.7M43.3,7.99H48.7M326.3,7.99H331.7M41.0,45.30H51.0M324.0,45.30H334.0M43.3,72.63H48.7M326.3,72.63H331.7M43.3,65.74H48.7M326.3,65.74H331.7M43.3,60.86H48.7M326.3,60.86H331.7M43.3,57.07H48.7M326.3,57.07H331.7M43.3,53.97H48.7M326.3,53.97H331.7M43.3,51.36H48.7M326.3,51.36H331.7M43.3,49.09H48.7M326.3,49.09H331.7M43.3,47.09H48.7M326.3,47.09H331.7M41.0,84.40H51.0M324.0,84.40H334.0M43.3,111.73H48.7M326.3,111.73H331.7M43.3,104.84H48.7M326.3,104.84H331.7M43.3,99.96H48.7M326.3,99.96H331.7M43.3,96.17H48.7M326.3,96.17H331.7M43.3,93.07H48.7M326.3,93.07H331.7M43.3,90.46H48.7M326.3,90.46H331.7M43.3,88.19H48.7M326.3,88.19H331.7M43.3,86.19H48.7M326.3,86.19H331.7M41.0,123.50H51.0M324.0,123.50H334.0M43.3,150.83H48.7M326.3,150.83H331.7M43.3,143.94H48.7M326.3,143.94H331.7M43.3,139.06H48.7M326.3,139.06H331.7M43.3,135.27H48.7M326.3,135.27H331.7M43.3,132.17H48.7M326.3,132.17H331.7M43.3,129.56H48.7M326.3,129.56H331.7M43.3,127.29H48.7M326.3,127.29H331.7M43.3,125.29H48.7M326.3,125.29H331.7M41.0,162.60H51.0M324.0,162.60H334.0M43.3,183.04H48.7M326.3,183.04H331.7M43.3,178.16H48.7M326.3,178.16H331.7M43.3,174.37H48.7M326.3,174.37H331.7M43.3,171.27H48.7M326.3,171.27H331.7M43.3,168.66H48.7M326.3,168.66H331.7M43.3,166.39H48.7M326.3,166.39H331.7M43.3,164.39H48.7M326.3,164.39H331.7M107.50,3.6V8.8M107.50,187.4V192.6M107.50,248.0V253.2M164.99,3.6V8.8M164.99,187.4V192.6M164.99,248.0V253.2M205.79,3.6V8.8M205.79,187.4V192.6M205.79,248.0V253.2M237.43,3.6V8.8M237.43,187.4V192.6M237.43,248.0V253.2M263.28,3.6V8.8M263.28,187.4V192.6M263.28,248.0V253.2M285.14,3.6V8.8M285.14,187.4V192.6M285.14,248.0V253.2M304.07,3.6V8.8M304.07,187.4V192.6M304.07,248.0V253.2M320.77,3.6V8.8M320.77,187.4V192.6M320.77,248.0V253.2M41.0,190.0H46.0M41.0,220.4H46.0M41.0,250.6H46.0M329.0,220.4H334.0M329.0,190.0H334.0M329.0,250.6H334.0" stroke="#000" stroke-width="1.5" fill="none"/>
<text x="29.8" y="10.70" text-anchor="end" style="font-family:'Liberation Serif',serif;font-size:10px" fill="#111">10</text><text x="29.8" y="5.00" style="font-family:'Liberation Serif',serif;font-size:7px" fill="#111">−12</text>
<text x="29.8" y="49.80" text-anchor="end" style="font-family:'Liberation Serif',serif;font-size:10px" fill="#111">10</text><text x="29.8" y="44.10" style="font-family:'Liberation Serif',serif;font-size:7px" fill="#111">−13</text>
<text x="29.8" y="88.90" text-anchor="end" style="font-family:'Liberation Serif',serif;font-size:10px" fill="#111">10</text><text x="29.8" y="83.20" style="font-family:'Liberation Serif',serif;font-size:7px" fill="#111">−14</text>
<text x="29.8" y="128.00" text-anchor="end" style="font-family:'Liberation Serif',serif;font-size:10px" fill="#111">10</text><text x="29.8" y="122.30" style="font-family:'Liberation Serif',serif;font-size:7px" fill="#111">−15</text>
<text x="29.8" y="167.10" text-anchor="end" style="font-family:'Liberation Serif',serif;font-size:10px" fill="#111">10</text><text x="29.8" y="161.40" style="font-family:'Liberation Serif',serif;font-size:7px" fill="#111">−16</text>
<text x="40.0" y="193.50" text-anchor="end" style="font-family:'Liberation Serif',serif;font-size:9.9px" fill="#111">0.5</text>
<text x="40.0" y="223.90" text-anchor="end" style="font-family:'Liberation Serif',serif;font-size:9.9px" fill="#111">0.0</text>
<text x="40.0" y="254.10" text-anchor="end" style="font-family:'Liberation Serif',serif;font-size:9.9px" fill="#111">−0.5</text>
<text x="94.00" y="262.60" style="font-family:'Liberation Serif',serif;font-size:9.8px" fill="#111">2</text><text x="100.30" y="262.00" style="font-family:'Liberation Serif',serif;font-size:9px" fill="#111">×</text><text x="107.60" y="262.60" style="font-family:'Liberation Serif',serif;font-size:9.8px;letter-spacing:0.35px" fill="#111">10</text><text x="118.10" y="258.00" style="font-family:'Liberation Serif',serif;font-size:6.6px" fill="#111">3</text>
<text x="151.49" y="262.60" style="font-family:'Liberation Serif',serif;font-size:9.8px" fill="#111">3</text><text x="157.79" y="262.00" style="font-family:'Liberation Serif',serif;font-size:9px" fill="#111">×</text><text x="165.09" y="262.60" style="font-family:'Liberation Serif',serif;font-size:9.8px;letter-spacing:0.35px" fill="#111">10</text><text x="175.59" y="258.00" style="font-family:'Liberation Serif',serif;font-size:6.6px" fill="#111">3</text>
<text x="192.29" y="262.60" style="font-family:'Liberation Serif',serif;font-size:9.8px" fill="#111">4</text><text x="198.59" y="262.00" style="font-family:'Liberation Serif',serif;font-size:9px" fill="#111">×</text><text x="205.89" y="262.60" style="font-family:'Liberation Serif',serif;font-size:9.8px;letter-spacing:0.35px" fill="#111">10</text><text x="216.39" y="258.00" style="font-family:'Liberation Serif',serif;font-size:6.6px" fill="#111">3</text>
<text x="249.78" y="262.60" style="font-family:'Liberation Serif',serif;font-size:9.8px" fill="#111">6</text><text x="256.08" y="262.00" style="font-family:'Liberation Serif',serif;font-size:9px" fill="#111">×</text><text x="263.38" y="262.60" style="font-family:'Liberation Serif',serif;font-size:9.8px;letter-spacing:0.35px" fill="#111">10</text><text x="273.88" y="258.00" style="font-family:'Liberation Serif',serif;font-size:6.6px" fill="#111">3</text>
<text x="187.5" y="275.5" text-anchor="middle" style="font-family:'Liberation Serif',serif;font-size:11.5px" fill="#111">λ(Å)</text>
<text transform="translate(17,220.2) rotate(-90)" text-anchor="middle" style="font-family:'Liberation Serif',serif;font-size:10.8px" fill="#111">Residuals</text>
<text transform="translate(13.5,96.3) rotate(-90)" text-anchor="middle" style="font-family:'Liberation Serif',serif;font-size:11px" fill="#111">F<tspan dy="2.3" style="font-size:7.6px">λ</tspan><tspan dy="-2.3">(ergs/s/cm</tspan><tspan dy="-6" dx="0.8" style="font-size:7.6px">2</tspan><tspan dy="6" dx="0.8">/Å)</tspan></text>
<text x="147" y="30" style="font-family:'Liberation Serif',serif;font-size:12.45px" fill="#111">Star 32</text>
<text x="108.4" y="42" style="font-family:'Liberation Serif',serif;font-size:12.55px" fill="#111">Temperature = 100000 K</text>
<rect x="260" y="10.5" width="64.20000000000005" height="72.0" rx="2" fill="#fff" fill-opacity="0.85" stroke="#e6e6e6" stroke-width="0.8"/>
<line x1="262.3" y1="16.75" x2="282.7" y2="16.75" stroke="#777777" stroke-width="1.9"/>
<text x="289.5" y="20.05" style="font-family:'Liberation Serif',serif;font-size:9.2px" fill="#111">Model</text>
<ellipse cx="272.50" cy="28.40" rx="3.64" ry="3.40" fill="#ff0000"/>
<text x="289.5" y="31.7" style="font-family:'Liberation Serif',serif;font-size:9.2px" fill="#111">UVIT</text>
<path d="M272.50,35.96 L276.28,42.56 L268.72,42.56Z" fill="#1e90ff"/>
<text x="289.5" y="43.349999999999994" style="font-family:'Liberation Serif',serif;font-size:9.2px" fill="#111">GALEX</text>
<rect x="268.72" y="48.40" width="7.57" height="6.60" fill="#bf00bf"/>
<text x="289.5" y="55.0" style="font-family:'Liberation Serif',serif;font-size:9.2px" fill="#111">Optical</text>
<path d="M272.50,59.26 L276.28,65.86 L268.72,65.86Z" fill="#ffa500"/>
<text x="289.5" y="66.65" style="font-family:'Liberation Serif',serif;font-size:9.2px" fill="#111">No fit</text>
<line x1="272.5" y1="70.7" x2="272.5" y2="79.3" stroke="#000" stroke-width="1.4"/><path d="M268.5,70.7H276.5M268.5,79.3H276.5" stroke="#bbb" stroke-width="0.8"/>
<text x="289.5" y="78.3" style="font-family:'Liberation Serif',serif;font-size:9.2px" fill="#111">3σ</text>
</g>
<polyline points="46.0,405.5 46.6,405.1 47.2,405.7 47.8,405.3 48.4,405.5 49.0,405.9 49.6,406.0 50.2,405.6 50.8,405.7 51.4,405.9 52.0,406.2 52.6,406.5 53.2,406.8 53.8,407.2 54.4,408.0 55.0,408.5 55.6,408.3 56.2,408.7 56.8,408.8 57.4,408.3 58.0,408.8 58.6,408.3 59.2,408.6 59.8,408.5 60.4,408.5 61.0,408.3 61.6,408.6 62.2,409.0 62.8,409.2 63.4,409.6 64.0,409.7 64.6,409.9 65.2,409.9 65.8,410.6 66.4,410.7 67.0,410.8 67.6,411.4 68.2,411.6 68.8,411.6 69.4,411.6 70.0,412.0 70.6,412.0 71.2,412.2 71.8,412.6 72.4,412.6 73.0,413.0 73.6,413.3 74.2,413.2 74.8,413.8 75.4,413.7 76.0,414.3 76.6,414.6 77.2,414.6 77.8,414.5 78.4,415.0 79.0,415.1 79.6,415.8 80.2,415.4 80.8,416.1 81.4,416.4 82.0,416.5 82.6,416.7 83.2,416.5 83.8,417.3 84.4,417.1 85.0,417.7 85.6,417.9 86.2,417.6 86.8,418.2 87.4,418.5 88.0,418.1 88.6,418.5 89.2,419.0 89.8,418.8 90.4,419.6 91.0,419.3 91.6,419.9 92.2,419.7 92.8,420.1 93.4,420.6 94.0,420.4 94.6,420.7 95.2,421.2 95.8,421.4 96.4,421.5 97.0,421.9 97.6,422.2 98.2,423.0 98.8,423.1 99.4,423.4 100.0,423.0 100.6,423.5 101.2,423.2 101.8,423.6 102.4,423.7 103.0,423.7 103.6,424.1 104.2,424.0 104.8,424.1 105.4,424.5 106.0,424.1 106.6,424.9 107.2,424.9 107.8,424.9 108.4,425.4 109.0,425.2 109.6,425.9 110.2,425.9 110.8,425.9 111.4,426.4 112.0,426.4 112.6,426.4 113.2,427.0 113.8,426.7 114.4,427.4 115.0,427.2 115.6,427.7 116.2,428.1 116.8,428.1 117.4,428.3 118.0,428.3 118.6,428.2 119.2,428.4 119.8,428.7 120.4,429.2 121.0,429.3 121.6,429.6 122.2,430.0 122.8,429.7 123.4,430.0 124.0,430.5 124.6,430.2 125.2,430.4 125.8,430.8 126.4,430.9 127.0,431.3 127.6,431.4 128.2,431.9 128.8,432.1 129.4,432.1 130.0,432.6 130.6,432.7 131.2,432.7 131.8,433.5 132.4,433.2 133.0,433.4 133.6,433.6 134.2,434.2 134.8,434.6 135.4,434.8 136.0,434.7 136.6,434.9 137.2,434.9 137.8,435.6 138.4,435.7 139.0,435.8 139.6,436.3 140.2,436.3 140.8,436.9 141.4,437.0 142.0,436.9 142.6,437.6 143.2,437.2 143.8,437.8 144.4,437.9 145.0,438.0 145.6,438.1 146.2,438.9 146.8,438.5 147.4,439.2 148.0,439.7 148.6,439.3 149.2,439.6 149.8,440.1 150.4,440.3 151.0,440.6 151.6,440.9 152.2,440.7 152.8,441.0 153.4,441.2 154.0,441.3 154.6,442.1 155.2,442.3 155.8,442.5 156.4,442.2 157.0,443.0 157.6,443.2 158.2,443.2 158.8,443.6 159.4,443.6 160.0,443.7 160.6,443.8 161.2,444.2 161.8,444.3 162.4,444.7 163.0,445.2 163.6,445.4 164.2,445.7 164.8,445.9 165.4,445.8 166.0,446.2 166.6,446.4 167.2,446.8 167.8,446.9 168.4,446.9 169.0,447.4 169.6,447.9 170.2,447.6 170.8,448.3 171.4,447.9 172.0,448.3 172.6,448.5 173.2,449.1 173.8,449.4 174.4,449.5 175.0,449.5 175.6,450.1 176.2,449.9 176.8,450.1 177.4,450.8 178.0,450.8 178.6,451.1 179.2,451.3 179.8,451.7 180.4,451.6 181.0,452.1 181.6,452.2 182.2,452.6 182.8,452.5 183.4,452.9 184.0,453.0 184.6,453.1 185.2,453.2 185.8,453.7 186.4,453.6 187.0,454.3 187.6,454.0 188.2,454.1 188.8,454.3 189.4,455.1 190.0,454.9 190.6,455.0 191.2,455.1 191.8,455.3 192.4,455.9 193.0,456.1 193.6,456.4 194.2,457.1 194.8,457.2 195.4,458.1 196.0,458.0 196.6,457.8 197.2,457.2 197.8,456.8 198.4,455.8 199.0,456.1 199.6,455.8 200.2,455.5 200.8,455.6 201.4,459.2 202.0,455.9 202.6,455.4 203.2,456.1 203.8,456.2 204.4,457.5 205.0,460.3 205.6,456.6 206.2,456.5 206.8,456.5 207.4,456.6 208.0,457.3 208.6,457.1 209.2,458.7 209.8,461.5 210.4,457.7 211.0,458.1 211.6,458.4 212.2,459.0 212.8,459.0 213.4,459.2 214.0,459.9 214.6,460.0 215.2,460.6 215.8,460.8 216.4,460.7 217.0,461.4 217.6,461.8 218.2,462.4 218.8,462.5 219.4,462.9 220.0,463.0 220.6,462.9 221.2,463.5 221.8,463.2 222.4,463.8 223.0,463.5 223.6,463.6 224.2,463.9 224.8,464.6 225.4,465.0 226.0,464.7 226.6,465.3 227.2,465.6 227.8,466.2 228.4,466.1 229.0,466.6 229.6,466.8 230.2,467.4 230.8,467.3 231.4,468.0 232.0,467.7 232.6,468.4 233.2,470.2 233.8,471.6 234.4,471.1 235.0,470.4 235.6,468.9 236.2,469.7 236.8,469.8 237.4,470.1 238.0,470.2 238.6,470.3 239.2,470.7 239.8,471.0 240.4,471.7 241.0,471.4 241.6,472.3 242.2,472.0 242.8,472.4 243.4,472.8 244.0,473.5 244.6,473.6 245.2,473.8 245.8,474.5 246.4,474.3 247.0,474.8 247.6,475.2 248.2,475.6 248.8,475.9 249.4,476.2 250.0,476.3 250.6,476.6 251.2,476.8 251.8,477.6 252.4,477.8 253.0,478.1 253.6,478.1 254.2,478.5 254.8,479.0 255.4,479.1 256.0,479.0 256.6,479.5 257.2,480.1 257.8,479.9 258.4,480.1 259.0,480.4 259.6,480.9 260.2,481.3 260.8,481.0 261.4,481.3 262.0,481.6 262.6,481.9 263.2,482.3 263.8,482.4 264.4,482.7 265.0,482.9 265.6,483.7 266.2,483.8 266.8,483.7 267.4,484.6 268.0,484.2 268.6,484.7 269.2,485.4 269.8,485.5 270.4,485.8 271.0,485.8 271.6,485.9 272.2,486.5 272.8,486.4 273.4,486.8 274.0,487.2 274.6,487.2 275.2,487.7 275.8,488.3 276.4,488.8 277.0,489.8 277.6,490.8 278.2,490.1 278.8,489.2 279.4,489.8 280.0,489.9 280.6,490.4 281.2,490.8 281.8,490.8 282.4,491.1 283.0,491.5 283.6,491.6 284.2,491.7 284.8,492.3 285.4,492.7 286.0,492.9 286.6,493.1 287.2,493.5 287.8,493.7 288.4,493.9 289.0,494.1 289.6,494.2 290.2,494.7 290.8,494.6 291.4,495.1 292.0,495.7 292.6,495.9 293.2,496.1 293.8,496.1 294.4,496.5 295.0,496.8 295.6,497.2 296.2,497.3 296.8,497.7 297.4,498.2 298.0,497.9 298.6,498.5 299.2,498.9 299.8,498.9 300.4,499.2 301.0,499.9 301.6,499.5 302.2,500.1 302.8,500.1 303.4,500.8 304.0,501.2 304.6,501.2 305.2,501.1 305.8,501.7 306.4,502.0 307.0,502.4 307.6,502.5 308.2,502.9 308.8,503.3 309.4,503.4 310.0,503.6 310.6,504.2 311.2,504.0 311.8,504.6 312.4,504.6 313.0,505.2 313.6,505.0 314.2,505.9 314.8,505.7 315.4,506.4 316.0,507.7 316.6,507.2 317.2,506.6 317.8,507.2 318.4,508.2 319.0,509.9 319.6,508.7 320.2,508.1 320.8,508.4 321.4,510.0 322.0,511.9 322.6,510.4 323.2,509.5 323.8,510.2 324.4,511.1 325.0,512.8 325.6,511.5 326.2,511.2 326.8,511.5 327.4,511.7 328.0,511.8 328.6,512.2" fill="none" stroke="#777777" stroke-width="1.9" stroke-linejoin="round"/>
<polyline points="199.0,456.9 199.5,456.7 200.0,456.4 200.5,456.3 201.0,456.4 201.5,456.6 202.0,456.7 202.5,456.8 203.0,456.9 203.5,457.1 204.0,457.2 204.5,457.3 205.0,457.4 205.5,457.6 206.0,457.7 206.5,457.8 207.0,457.9 207.5,458.0 208.0,458.2 208.5,458.3 209.0,458.5 209.5,458.8 210.0,459.0 210.5,459.2 211.0,459.4 211.5,459.6" fill="none" stroke="#777777" stroke-width="1.4"/>
<ellipse cx="70.00" cy="413.90" rx="3.75" ry="3.50" fill="#ff0000"/><line x1="70.00" y1="411.80" x2="70.00" y2="416.00" stroke="#000" stroke-width="1.5"/>
<path d="M66.40,409.40H74.80M66.40,419.60H74.80" stroke="#c8c8c8" stroke-width="0.8"/><path d="M70.60,410.99 L74.30,417.45 L66.89,417.45Z" fill="#1e90ff"/><line x1="70.60" y1="409.40" x2="70.60" y2="419.60" stroke="#000" stroke-width="1.5"/>
<ellipse cx="76.30" cy="415.80" rx="3.75" ry="3.50" fill="#ff0000"/><line x1="76.30" y1="414.30" x2="76.30" y2="417.30" stroke="#000" stroke-width="1.5"/>
<path d="M127.50,417.03 L131.40,423.83 L123.60,423.83Z" fill="#ffa500"/>
<ellipse cx="134.60" cy="434.00" rx="3.75" ry="3.50" fill="#ff0000"/><line x1="134.60" y1="432.50" x2="134.60" y2="435.50" stroke="#000" stroke-width="1.5"/>
<ellipse cx="136.30" cy="432.90" rx="3.75" ry="3.50" fill="#ff0000"/><line x1="136.30" y1="431.40" x2="136.30" y2="434.40" stroke="#000" stroke-width="1.5"/>
<path d="M142.40,431.30H150.80M142.40,439.30H150.80" stroke="#c8c8c8" stroke-width="0.8"/><ellipse cx="146.60" cy="435.10" rx="3.75" ry="3.50" fill="#ff0000"/><line x1="146.60" y1="431.30" x2="146.60" y2="439.30" stroke="#000" stroke-width="1.5"/>
<path d="M150.40,439.80H158.80M150.40,449.40H158.80" stroke="#c8c8c8" stroke-width="0.8"/><path d="M154.60,440.58 L158.50,447.38 L150.70,447.38Z" fill="#ffa500"/><line x1="154.60" y1="439.80" x2="154.60" y2="449.40" stroke="#000" stroke-width="1.5"/>
<path d="M185.50,449.50H193.90M185.50,458.30H193.90" stroke="#c8c8c8" stroke-width="0.8"/><rect x="185.80" y="450.30" width="7.80" height="6.80" fill="#bf00bf"/><line x1="189.70" y1="449.50" x2="189.70" y2="458.30" stroke="#000" stroke-width="1.5"/>
<path d="M214.70,458.90H223.10M214.70,468.60H223.10" stroke="#c8c8c8" stroke-width="0.8"/><rect x="215.00" y="460.00" width="7.80" height="6.80" fill="#bf00bf"/><line x1="218.90" y1="458.90" x2="218.90" y2="468.60" stroke="#000" stroke-width="1.5"/>
<path d="M246.10,472.60H254.50M246.10,482.90H254.50" stroke="#c8c8c8" stroke-width="0.8"/><rect x="246.40" y="473.20" width="7.80" height="6.80" fill="#bf00bf"/><line x1="250.30" y1="472.60" x2="250.30" y2="482.90" stroke="#000" stroke-width="1.5"/>
<path d="M268.10,484.90H276.50M268.10,494.60H276.50" stroke="#c8c8c8" stroke-width="0.8"/><rect x="268.40" y="485.50" width="7.80" height="6.80" fill="#bf00bf"/><line x1="272.30" y1="484.90" x2="272.30" y2="494.60" stroke="#000" stroke-width="1.5"/>
<path d="M297.20,495.70H305.60M297.20,505.40H305.60" stroke="#c8c8c8" stroke-width="0.8"/><rect x="297.50" y="496.90" width="7.80" height="6.80" fill="#bf00bf"/><line x1="301.40" y1="495.70" x2="301.40" y2="505.40" stroke="#000" stroke-width="1.5"/>
<ellipse cx="70.00" cy="548.30" rx="3.75" ry="3.50" fill="#ff0000"/><line x1="70.00" y1="546.80" x2="70.00" y2="549.80" stroke="#000" stroke-width="1.5"/>
<path d="M66.60,545.30H75.00M66.60,557.30H75.00" stroke="#c8c8c8" stroke-width="0.8"/><path d="M70.80,547.29 L74.50,553.75 L67.09,553.75Z" fill="#1e90ff"/><line x1="70.80" y1="545.30" x2="70.80" y2="557.30" stroke="#000" stroke-width="1.5"/>
<ellipse cx="76.40" cy="551.60" rx="3.75" ry="3.50" fill="#ff0000"/><line x1="76.40" y1="550.10" x2="76.40" y2="553.10" stroke="#000" stroke-width="1.5"/>
<ellipse cx="133.80" cy="549.80" rx="3.75" ry="3.50" fill="#ff0000"/><line x1="133.80" y1="548.30" x2="133.80" y2="551.30" stroke="#000" stroke-width="1.5"/>
<ellipse cx="135.60" cy="540.60" rx="3.75" ry="3.50" fill="#ff0000"/><line x1="135.60" y1="538.60" x2="135.60" y2="542.60" stroke="#000" stroke-width="1.5"/>
<path d="M142.00,531.20H150.40M142.00,540.20H150.40" stroke="#c8c8c8" stroke-width="0.8"/><ellipse cx="146.20" cy="535.70" rx="3.75" ry="3.50" fill="#ff0000"/><line x1="146.20" y1="531.20" x2="146.20" y2="540.20" stroke="#000" stroke-width="1.5"/>
<path d="M185.50,540.30H193.90M185.50,552.70H193.90" stroke="#c8c8c8" stroke-width="0.8"/><rect x="185.80" y="543.10" width="7.80" height="6.80" fill="#bf00bf"/><line x1="189.70" y1="540.30" x2="189.70" y2="552.70" stroke="#000" stroke-width="1.5"/>
<path d="M214.55,540.30H222.95M214.55,552.70H222.95" stroke="#c8c8c8" stroke-width="0.8"/><rect x="214.85" y="543.10" width="7.80" height="6.80" fill="#bf00bf"/><line x1="218.75" y1="540.30" x2="218.75" y2="552.70" stroke="#000" stroke-width="1.5"/>
<path d="M245.90,541.80H254.30M245.90,553.80H254.30" stroke="#c8c8c8" stroke-width="0.8"/><rect x="246.20" y="544.40" width="7.80" height="6.80" fill="#bf00bf"/><line x1="250.10" y1="541.80" x2="250.10" y2="553.80" stroke="#000" stroke-width="1.5"/>
<path d="M267.55,549.80H275.95M267.55,562.20H275.95" stroke="#c8c8c8" stroke-width="0.8"/><rect x="267.85" y="552.60" width="7.80" height="6.80" fill="#bf00bf"/><line x1="271.75" y1="549.80" x2="271.75" y2="562.20" stroke="#000" stroke-width="1.5"/>
<path d="M296.90,543.80H305.30M296.90,555.80H305.30" stroke="#c8c8c8" stroke-width="0.8"/><rect x="297.20" y="546.40" width="7.80" height="6.80" fill="#bf00bf"/><line x1="301.10" y1="543.80" x2="301.10" y2="555.80" stroke="#000" stroke-width="1.5"/>
<g transform="translate(0,329)">
<rect x="46.0" y="6.2" width="283.0" height="244.4" fill="none" stroke="#000" stroke-width="1.9"/>
<line x1="46.0" y1="190.0" x2="329.0" y2="190.0" stroke="#000" stroke-width="1.9"/>
<path d="M41.0,6.20H51.0M324.0,6.20H334.0M43.3,33.53H48.7M326.3,33.53H331.7M43.3,26.64H48.7M326.3,26.64H331.7M43.3,21.76H48.7M326.3,21.76H331.7M43.3,17.97H48.7M326.3,17.97H331.7M43.3,14.87H48.7M326.3,14.87H331.7M43.3,12.26H48.7M326.3,12.26H331.7M43.3,9.99H48.7M326.3,9.99H331.7M43.3,7.99H48.7M326.3,7.99H331.7M41.0,45.30H51.0M324.0,45.30H334.0M43.3,72.63H48.7M326.3,72.63H331.7M43.3,65.74H48.7M326.3,65.74H331.7M43.3,60.86H48.7M326.3,60.86H331.7M43.3,57.07H48.7M326.3,57.07H331.7M43.3,53.97H48.7M326.3,53.97H331.7M43.3,51.36H48.7M326.3,51.36H331.7M43.3,49.09H48.7M326.3,49.09H331.7M43.3,47.09H48.7M326.3,47.09H331.7M41.0,84.40H51.0M324.0,84.40H334.0M43.3,111.73H48.7M326.3,111.73H331.7M43.3,104.84H48.7M326.3,104.84H331.7M43.3,99.96H48.7M326.3,99.96H331.7M43.3,96.17H48.7M326.3,96.17H331.7M43.3,93.07H48.7M326.3,93.07H331.7M43.3,90.46H48.7M326.3,90.46H331.7M43.3,88.19H48.7M326.3,88.19H331.7M43.3,86.19H48.7M326.3,86.19H331.7M41.0,123.50H51.0M324.0,123.50H334.0M43.3,150.83H48.7M326.3,150.83H331.7M43.3,143.94H48.7M326.3,143.94H331.7M43.3,139.06H48.7M326.3,139.06H331.7M43.3,135.27H48.7M326.3,135.27H331.7M43.3,132.17H48.7M326.3,132.17H331.7M43.3,129.56H48.7M326.3,129.56H331.7M43.3,127.29H48.7M326.3,127.29H331.7M43.3,125.29H48.7M326.3,125.29H331.7M41.0,162.60H51.0M324.0,162.60H334.0M43.3,183.04H48.7M326.3,183.04H331.7M43.3,178.16H48.7M326.3,178.16H331.7M43.3,174.37H48.7M326.3,174.37H331.7M43.3,171.27H48.7M326.3,171.27H331.7M43.3,168.66H48.7M326.3,168.66H331.7M43.3,166.39H48.7M326.3,166.39H331.7M43.3,164.39H48.7M326.3,164.39H331.7M107.50,3.6V8.8M107.50,187.4V192.6M107.50,248.0V253.2M164.99,3.6V8.8M164.99,187.4V192.6M164.99,248.0V253.2M205.79,3.6V8.8M205.79,187.4V192.6M205.79,248.0V253.2M237.43,3.6V8.8M237.43,187.4V192.6M237.43,248.0V253.2M263.28,3.6V8.8M263.28,187.4V192.6M263.28,248.0V253.2M285.14,3.6V8.8M285.14,187.4V192.6M285.14,248.0V253.2M304.07,3.6V8.8M304.07,187.4V192.6M304.07,248.0V253.2M320.77,3.6V8.8M320.77,187.4V192.6M320.77,248.0V253.2M41.0,190.0H46.0M41.0,220.4H46.0M41.0,250.6H46.0M329.0,220.4H334.0M329.0,190.0H334.0M329.0,250.6H334.0" stroke="#000" stroke-width="1.5" fill="none"/>
<text x="29.8" y="10.70" text-anchor="end" style="font-family:'Liberation Serif',serif;font-size:10px" fill="#111">10</text><text x="29.8" y="5.00" style="font-family:'Liberation Serif',serif;font-size:7px" fill="#111">−12</text>
<text x="29.8" y="49.80" text-anchor="end" style="font-family:'Liberation Serif',serif;font-size:10px" fill="#111">10</text><text x="29.8" y="44.10" style="font-family:'Liberation Serif',serif;font-size:7px" fill="#111">−13</text>
<text x="29.8" y="88.90" text-anchor="end" style="font-family:'Liberation Serif',serif;font-size:10px" fill="#111">10</text><text x="29.8" y="83.20" style="font-family:'Liberation Serif',serif;font-size:7px" fill="#111">−14</text>
<text x="29.8" y="128.00" text-anchor="end" style="font-family:'Liberation Serif',serif;font-size:10px" fill="#111">10</text><text x="29.8" y="122.30" style="font-family:'Liberation Serif',serif;font-size:7px" fill="#111">−15</text>
<text x="29.8" y="167.10" text-anchor="end" style="font-family:'Liberation Serif',serif;font-size:10px" fill="#111">10</text><text x="29.8" y="161.40" style="font-family:'Liberation Serif',serif;font-size:7px" fill="#111">−16</text>
<text x="40.0" y="193.50" text-anchor="end" style="font-family:'Liberation Serif',serif;font-size:9.9px" fill="#111">0.5</text>
<text x="40.0" y="223.90" text-anchor="end" style="font-family:'Liberation Serif',serif;font-size:9.9px" fill="#111">0.0</text>
<text x="40.0" y="254.10" text-anchor="end" style="font-family:'Liberation Serif',serif;font-size:9.9px" fill="#111">−0.5</text>
<text x="94.00" y="262.60" style="font-family:'Liberation Serif',serif;font-size:9.8px" fill="#111">2</text><text x="100.30" y="262.00" style="font-family:'Liberation Serif',serif;font-size:9px" fill="#111">×</text><text x="107.60" y="262.60" style="font-family:'Liberation Serif',serif;font-size:9.8px;letter-spacing:0.35px" fill="#111">10</text><text x="118.10" y="258.00" style="font-family:'Liberation Serif',serif;font-size:6.6px" fill="#111">3</text>
<text x="151.49" y="262.60" style="font-family:'Liberation Serif',serif;font-size:9.8px" fill="#111">3</text><text x="157.79" y="262.00" style="font-family:'Liberation Serif',serif;font-size:9px" fill="#111">×</text><text x="165.09" y="262.60" style="font-family:'Liberation Serif',serif;font-size:9.8px;letter-spacing:0.35px" fill="#111">10</text><text x="175.59" y="258.00" style="font-family:'Liberation Serif',serif;font-size:6.6px" fill="#111">3</text>
<text x="192.29" y="262.60" style="font-family:'Liberation Serif',serif;font-size:9.8px" fill="#111">4</text><text x="198.59" y="262.00" style="font-family:'Liberation Serif',serif;font-size:9px" fill="#111">×</text><text x="205.89" y="262.60" style="font-family:'Liberation Serif',serif;font-size:9.8px;letter-spacing:0.35px" fill="#111">10</text><text x="216.39" y="258.00" style="font-family:'Liberation Serif',serif;font-size:6.6px" fill="#111">3</text>
<text x="249.78" y="262.60" style="font-family:'Liberation Serif',serif;font-size:9.8px" fill="#111">6</text><text x="256.08" y="262.00" style="font-family:'Liberation Serif',serif;font-size:9px" fill="#111">×</text><text x="263.38" y="262.60" style="font-family:'Liberation Serif',serif;font-size:9.8px;letter-spacing:0.35px" fill="#111">10</text><text x="273.88" y="258.00" style="font-family:'Liberation Serif',serif;font-size:6.6px" fill="#111">3</text>
<text x="187.5" y="275.5" text-anchor="middle" style="font-family:'Liberation Serif',serif;font-size:11.5px" fill="#111">λ(Å)</text>
<text transform="translate(17,220.2) rotate(-90)" text-anchor="middle" style="font-family:'Liberation Serif',serif;font-size:10.8px" fill="#111">Residuals</text>
<text transform="translate(13.5,96.3) rotate(-90)" text-anchor="middle" style="font-family:'Liberation Serif',serif;font-size:11px" fill="#111">F<tspan dy="2.3" style="font-size:7.6px">λ</tspan><tspan dy="-2.3">(ergs/s/cm</tspan><tspan dy="-6" dx="0.8" style="font-size:7.6px">2</tspan><tspan dy="6" dx="0.8">/Å)</tspan></text>
<text x="147" y="30" style="font-family:'Liberation Serif',serif;font-size:12.45px" fill="#111">Star 33</text>
<text x="108.4" y="42" style="font-family:'Liberation Serif',serif;font-size:12.55px" fill="#111">Temperature = 26000 K</text>
<rect x="260" y="9.75" width="64.5" height="72.5" rx="2" fill="#fff" fill-opacity="0.85" stroke="#e6e6e6" stroke-width="0.8"/>
<line x1="262.3" y1="16.399999999999977" x2="282.7" y2="16.399999999999977" stroke="#777777" stroke-width="1.9"/>
<text x="289.5" y="19.699999999999978" style="font-family:'Liberation Serif',serif;font-size:9.2px" fill="#111">Model</text>
<ellipse cx="272.50" cy="28.15" rx="3.64" ry="3.40" fill="#ff0000"/>
<text x="289.5" y="31.449999999999978" style="font-family:'Liberation Serif',serif;font-size:9.2px" fill="#111">UVIT</text>
<path d="M272.50,35.81 L276.28,42.41 L268.72,42.41Z" fill="#1e90ff"/>
<text x="289.5" y="43.199999999999974" style="font-family:'Liberation Serif',serif;font-size:9.2px" fill="#111">GALEX</text>
<rect x="268.72" y="48.35" width="7.57" height="6.60" fill="#bf00bf"/>
<text x="289.5" y="54.949999999999974" style="font-family:'Liberation Serif',serif;font-size:9.2px" fill="#111">Optical</text>
<path d="M272.50,59.31 L276.28,65.91 L268.72,65.91Z" fill="#ffa500"/>
<text x="289.5" y="66.69999999999997" style="font-family:'Liberation Serif',serif;font-size:9.2px" fill="#111">No fit</text>
<line x1="272.5" y1="70.84999999999998" x2="272.5" y2="79.44999999999997" stroke="#000" stroke-width="1.4"/><path d="M268.5,70.84999999999998H276.5M268.5,79.44999999999997H276.5" stroke="#bbb" stroke-width="0.8"/>
<text x="289.5" y="78.44999999999997" style="font-family:'Liberation Serif',serif;font-size:9.2px" fill="#111">3σ</text>
</g>
<polyline points="411.0,391.2 411.6,391.8 412.2,391.4 412.8,391.7 413.4,391.9 414.0,392.0 414.6,391.8 415.2,391.8 415.8,392.0 416.4,391.8 417.0,392.5 417.6,392.6 418.2,393.3 418.8,393.3 419.4,393.8 420.0,394.1 420.6,394.6 421.2,394.5 421.8,394.3 422.4,394.8 423.0,394.4 423.6,394.4 424.2,394.4 424.8,394.4 425.4,394.4 426.0,394.5 426.6,394.8 427.2,394.8 427.8,395.5 428.4,395.7 429.0,395.4 429.6,396.2 430.2,396.5 430.8,396.6 431.4,396.4 432.0,397.1 432.6,397.2 433.2,397.0 433.8,397.2 434.4,398.0 435.0,398.1 435.6,398.0 436.2,398.1 436.8,398.3 437.4,398.6 438.0,399.2 438.6,399.1 439.2,399.2 439.8,399.9 440.4,400.0 441.0,399.8 441.6,400.5 442.2,400.5 442.8,400.9 443.4,401.0 444.0,401.4 444.6,401.5 445.2,401.7 445.8,401.5 446.4,402.0 447.0,402.1 447.6,402.5 448.2,402.5 448.8,403.0 449.4,403.0 450.0,403.0 450.6,403.2 451.2,403.3 451.8,403.8 452.4,403.7 453.0,404.2 453.6,404.2 454.2,404.6 454.8,404.8 455.4,405.1 456.0,405.5 456.6,405.1 457.2,405.9 457.8,405.9 458.4,406.1 459.0,406.4 459.6,406.8 460.2,406.8 460.8,407.2 461.4,407.9 462.0,407.5 462.6,408.2 463.2,408.5 463.8,408.4 464.4,408.9 465.0,409.0 465.6,409.3 466.2,409.0 466.8,409.6 467.4,409.3 468.0,409.4 468.6,409.8 469.2,409.3 469.8,409.9 470.4,409.9 471.0,409.9 471.6,410.5 472.2,410.3 472.8,410.6 473.4,410.8 474.0,411.2 474.6,411.0 475.2,411.4 475.8,411.6 476.4,411.8 477.0,412.2 477.6,412.1 478.2,412.6 478.8,412.5 479.4,412.8 480.0,412.8 480.6,413.2 481.2,413.7 481.8,413.7 482.4,414.0 483.0,413.8 483.6,414.0 484.2,414.2 484.8,414.6 485.4,414.8 486.0,415.1 486.6,414.8 487.2,415.4 487.8,415.7 488.4,415.7 489.0,415.5 489.6,415.9 490.2,415.9 490.8,416.2 491.4,416.9 492.0,417.0 492.6,417.2 493.2,417.5 493.8,417.8 494.4,417.9 495.0,418.1 495.6,418.3 496.2,418.6 496.8,418.8 497.4,419.0 498.0,418.9 498.6,419.5 499.2,419.6 499.8,420.0 500.4,419.8 501.0,420.1 501.6,420.2 502.2,420.9 502.8,421.2 503.4,421.3 504.0,421.3 504.6,421.9 505.2,422.1 505.8,422.1 506.4,422.1 507.0,422.4 507.6,422.7 508.2,422.9 508.8,423.2 509.4,423.5 510.0,424.0 510.6,423.6 511.2,424.2 511.8,424.0 512.4,424.3 513.0,425.0 513.6,425.1 514.2,425.6 514.8,425.4 515.4,425.4 516.0,425.9 516.6,426.2 517.2,426.7 517.8,427.0 518.4,426.8 519.0,427.0 519.6,427.0 520.2,427.6 520.8,427.6 521.4,427.7 522.0,427.9 522.6,428.1 523.2,428.8 523.8,428.6 524.4,429.4 525.0,429.0 525.6,429.8 526.2,429.5 526.8,429.7 527.4,430.4 528.0,430.3 528.6,430.9 529.2,430.7 529.8,430.8 530.4,431.6 531.0,431.8 531.6,432.1 532.2,432.2 532.8,432.0 533.4,432.6 534.0,432.9 534.6,432.9 535.2,433.5 535.8,433.2 536.4,434.0 537.0,434.0 537.6,433.8 538.2,434.0 538.8,434.7 539.4,435.0 540.0,434.7 540.6,435.1 541.2,435.6 541.8,435.4 542.4,436.2 543.0,436.1 543.6,436.1 544.2,436.5 544.8,436.9 545.4,437.0 546.0,437.4 546.6,437.2 547.2,437.9 547.8,437.9 548.4,438.3 549.0,438.5 549.6,438.6 550.2,438.8 550.8,439.3 551.4,439.5 552.0,439.6 552.6,439.6 553.2,439.6 553.8,439.7 554.4,440.5 555.0,440.5 555.6,440.7 556.2,440.6 556.8,441.0 557.4,441.4 558.0,441.5 558.6,441.6 559.2,442.0 559.8,442.7 560.4,443.6 561.0,443.2 561.6,442.9 562.2,442.3 562.8,442.0 563.4,441.5 564.0,440.8 564.6,440.3 565.2,440.2 565.8,441.0 566.4,444.6 567.0,441.5 567.6,441.1 568.2,440.7 568.8,441.4 569.4,442.7 570.0,445.4 570.6,441.6 571.2,441.5 571.8,442.1 572.4,442.2 573.0,442.2 573.6,442.6 574.2,443.7 574.8,446.3 575.4,443.1 576.0,443.5 576.6,443.3 577.2,443.9 577.8,444.3 578.4,444.1 579.0,444.6 579.6,445.0 580.2,445.2 580.8,445.4 581.4,445.8 582.0,446.5 582.6,446.9 583.2,447.0 583.8,447.1 584.4,447.9 585.0,448.0 585.6,447.8 586.2,448.1 586.8,448.5 587.4,448.7 588.0,448.6 588.6,448.7 589.2,448.9 589.8,448.9 590.4,449.2 591.0,449.5 591.6,450.2 592.2,450.3 592.8,450.7 593.4,450.9 594.0,451.3 594.6,451.4 595.2,451.6 595.8,452.4 596.4,452.2 597.0,452.2 597.6,453.3 598.2,454.9 598.8,456.0 599.4,456.1 600.0,454.8 600.6,453.8 601.2,453.7 601.8,453.9 602.4,454.8 603.0,454.9 603.6,455.0 604.2,455.3 604.8,455.4 605.4,456.1 606.0,456.1 606.6,456.8 607.2,457.0 607.8,457.3 608.4,457.7 609.0,457.5 609.6,457.7 610.2,458.1 610.8,458.4 611.4,458.6 612.0,458.9 612.6,459.6 613.2,460.1 613.8,460.1 614.4,460.7 615.0,461.0 615.6,460.7 616.2,461.4 616.8,461.6 617.4,461.7 618.0,462.6 618.6,462.4 619.2,462.9 619.8,463.2 620.4,463.6 621.0,463.7 621.6,463.7 622.2,464.0 622.8,464.0 623.4,464.8 624.0,465.1 624.6,464.8 625.2,464.9 625.8,465.3 626.4,465.6 627.0,466.2 627.6,466.5 628.2,466.7 628.8,466.4 629.4,467.2 630.0,467.4 630.6,467.6 631.2,468.1 631.8,467.7 632.4,468.1 633.0,468.8 633.6,469.2 634.2,469.3 634.8,469.3 635.4,469.7 636.0,470.1 636.6,469.9 637.2,470.3 637.8,470.6 638.4,470.7 639.0,471.3 639.6,471.3 640.2,471.6 640.8,471.8 641.4,472.8 642.0,473.5 642.6,474.9 643.2,473.9 643.8,473.1 644.4,474.0 645.0,473.8 645.6,474.5 646.2,474.8 646.8,475.0 647.4,474.8 648.0,475.3 648.6,475.3 649.2,476.1 649.8,476.3 650.4,476.5 651.0,476.6 651.6,476.8 652.2,477.4 652.8,477.4 653.4,477.8 654.0,477.7 654.6,478.1 655.2,478.2 655.8,478.9 656.4,479.1 657.0,479.1 657.6,479.8 658.2,479.7 658.8,480.1 659.4,480.1 660.0,480.5 660.6,481.1 661.2,481.1 661.8,481.2 662.4,481.7 663.0,481.8 663.6,482.5 664.2,482.2 664.8,483.1 665.4,482.7 666.0,483.6 666.6,483.7 667.2,483.6 667.8,484.1 668.4,484.2 669.0,484.4 669.6,484.7 670.2,485.0 670.8,485.7 671.4,486.0 672.0,486.2 672.6,485.9 673.2,486.2 673.8,486.9 674.4,486.6 675.0,487.3 675.6,487.3 676.2,488.0 676.8,487.6 677.4,488.4 678.0,488.3 678.6,488.4 679.2,488.5 679.8,489.4 680.4,490.0 681.0,490.9 681.6,490.5 682.2,490.4 682.8,490.2 683.4,491.5 684.0,492.6 684.6,491.7 685.2,491.6 685.8,491.8 686.4,492.7 687.0,494.4 687.6,493.1 688.2,492.7 688.8,492.9 689.4,494.0 690.0,495.7 690.6,494.7 691.2,494.0 691.8,494.3 692.4,494.4 693.0,494.4 693.6,494.5" fill="none" stroke="#777777" stroke-width="1.9" stroke-linejoin="round"/>
<polyline points="564.0,442.1 564.5,441.8 565.0,441.6 565.5,441.5 566.0,441.6 566.5,441.7 567.0,441.8 567.5,441.9 568.0,442.0 568.5,442.2 569.0,442.3 569.5,442.4 570.0,442.5 570.5,442.6 571.0,442.7 571.5,442.9 572.0,443.0 572.5,443.1 573.0,443.2 573.5,443.4 574.0,443.6 574.5,443.8 575.0,444.0 575.5,444.2 576.0,444.4 576.5,444.6" fill="none" stroke="#777777" stroke-width="1.4"/>
<ellipse cx="435.30" cy="398.90" rx="3.75" ry="3.50" fill="#ff0000"/><line x1="435.30" y1="396.80" x2="435.30" y2="401.00" stroke="#000" stroke-width="1.5"/>
<path d="M436.40,390.38 L440.30,397.18 L432.50,397.18Z" fill="#ffa500"/>
<path d="M492.60,402.58 L496.50,409.38 L488.70,409.38Z" fill="#ffa500"/>
<ellipse cx="500.90" cy="420.60" rx="3.75" ry="3.50" fill="#ff0000"/><line x1="500.90" y1="419.10" x2="500.90" y2="422.10" stroke="#000" stroke-width="1.5"/>
<ellipse cx="498.80" cy="423.40" rx="3.75" ry="3.50" fill="#ff0000"/><line x1="498.80" y1="421.90" x2="498.80" y2="424.90" stroke="#000" stroke-width="1.5"/>
<ellipse cx="511.40" cy="426.30" rx="3.75" ry="3.50" fill="#ff0000"/><line x1="511.40" y1="424.20" x2="511.40" y2="428.40" stroke="#000" stroke-width="1.5"/>
<ellipse cx="519.70" cy="429.10" rx="3.75" ry="3.50" fill="#ff0000"/><line x1="519.70" y1="427.00" x2="519.70" y2="431.20" stroke="#000" stroke-width="1.5"/>
<rect x="550.70" y="436.60" width="7.80" height="6.80" fill="#bf00bf"/><line x1="554.60" y1="437.50" x2="554.60" y2="442.50" stroke="#000" stroke-width="1.5"/>
<rect x="579.80" y="443.90" width="7.80" height="6.80" fill="#bf00bf"/><line x1="583.70" y1="444.80" x2="583.70" y2="449.80" stroke="#000" stroke-width="1.5"/>
<rect x="611.80" y="457.00" width="7.80" height="6.80" fill="#bf00bf"/><line x1="615.70" y1="457.90" x2="615.70" y2="462.90" stroke="#000" stroke-width="1.5"/>
<rect x="633.20" y="465.30" width="7.80" height="6.80" fill="#bf00bf"/><line x1="637.10" y1="466.20" x2="637.10" y2="471.20" stroke="#000" stroke-width="1.5"/>
<rect x="663.00" y="477.90" width="7.80" height="6.80" fill="#bf00bf"/><line x1="666.90" y1="478.80" x2="666.90" y2="483.80" stroke="#000" stroke-width="1.5"/>
<path d="M432.4,393.5H440.4" stroke="#ccc" stroke-width="0.8"/>
<ellipse cx="435.40" cy="546.50" rx="3.75" ry="3.50" fill="#ff0000"/><line x1="435.40" y1="545.30" x2="435.40" y2="547.70" stroke="#000" stroke-width="1.5"/>
<ellipse cx="501.30" cy="546.00" rx="3.75" ry="3.50" fill="#ff0000"/><line x1="501.30" y1="543.60" x2="501.30" y2="548.40" stroke="#000" stroke-width="1.5"/>
<ellipse cx="499.25" cy="558.85" rx="3.75" ry="3.50" fill="#ff0000"/><line x1="499.25" y1="557.15" x2="499.25" y2="560.55" stroke="#000" stroke-width="1.5"/>
<ellipse cx="511.35" cy="551.60" rx="3.75" ry="3.50" fill="#ff0000"/><line x1="511.35" y1="548.20" x2="511.35" y2="555.00" stroke="#000" stroke-width="1.5"/>
<path d="M515.40,548.60H523.80M515.40,555.80H523.80" stroke="#c8c8c8" stroke-width="0.8"/><ellipse cx="519.60" cy="552.20" rx="3.75" ry="3.50" fill="#ff0000"/><line x1="519.60" y1="548.60" x2="519.60" y2="555.80" stroke="#000" stroke-width="1.5"/>
<rect x="551.20" y="545.20" width="7.80" height="6.80" fill="#bf00bf"/><line x1="555.10" y1="546.10" x2="555.10" y2="551.10" stroke="#000" stroke-width="1.5"/>
<rect x="580.30" y="541.80" width="7.80" height="6.80" fill="#bf00bf"/><line x1="584.20" y1="542.40" x2="584.20" y2="548.00" stroke="#000" stroke-width="1.5"/>
<rect x="611.70" y="543.10" width="7.80" height="6.80" fill="#bf00bf"/><line x1="615.60" y1="544.00" x2="615.60" y2="549.00" stroke="#000" stroke-width="1.5"/>
<rect x="633.10" y="540.00" width="7.80" height="6.80" fill="#bf00bf"/><line x1="637.00" y1="540.60" x2="637.00" y2="546.20" stroke="#000" stroke-width="1.5"/>
<rect x="662.60" y="539.80" width="7.80" height="6.80" fill="#bf00bf"/><line x1="666.50" y1="540.40" x2="666.50" y2="546.00" stroke="#000" stroke-width="1.5"/>
<g transform="translate(365,329)">
<rect x="46.0" y="6.2" width="283.0" height="244.4" fill="none" stroke="#000" stroke-width="1.9"/>
<line x1="46.0" y1="190.0" x2="329.0" y2="190.0" stroke="#000" stroke-width="1.9"/>
<path d="M41.0,6.20H51.0M324.0,6.20H334.0M43.3,33.53H48.7M326.3,33.53H331.7M43.3,26.64H48.7M326.3,26.64H331.7M43.3,21.76H48.7M326.3,21.76H331.7M43.3,17.97H48.7M326.3,17.97H331.7M43.3,14.87H48.7M326.3,14.87H331.7M43.3,12.26H48.7M326.3,12.26H331.7M43.3,9.99H48.7M326.3,9.99H331.7M43.3,7.99H48.7M326.3,7.99H331.7M41.0,45.30H51.0M324.0,45.30H334.0M43.3,72.63H48.7M326.3,72.63H331.7M43.3,65.74H48.7M326.3,65.74H331.7M43.3,60.86H48.7M326.3,60.86H331.7M43.3,57.07H48.7M326.3,57.07H331.7M43.3,53.97H48.7M326.3,53.97H331.7M43.3,51.36H48.7M326.3,51.36H331.7M43.3,49.09H48.7M326.3,49.09H331.7M43.3,47.09H48.7M326.3,47.09H331.7M41.0,84.40H51.0M324.0,84.40H334.0M43.3,111.73H48.7M326.3,111.73H331.7M43.3,104.84H48.7M326.3,104.84H331.7M43.3,99.96H48.7M326.3,99.96H331.7M43.3,96.17H48.7M326.3,96.17H331.7M43.3,93.07H48.7M326.3,93.07H331.7M43.3,90.46H48.7M326.3,90.46H331.7M43.3,88.19H48.7M326.3,88.19H331.7M43.3,86.19H48.7M326.3,86.19H331.7M41.0,123.50H51.0M324.0,123.50H334.0M43.3,150.83H48.7M326.3,150.83H331.7M43.3,143.94H48.7M326.3,143.94H331.7M43.3,139.06H48.7M326.3,139.06H331.7M43.3,135.27H48.7M326.3,135.27H331.7M43.3,132.17H48.7M326.3,132.17H331.7M43.3,129.56H48.7M326.3,129.56H331.7M43.3,127.29H48.7M326.3,127.29H331.7M43.3,125.29H48.7M326.3,125.29H331.7M41.0,162.60H51.0M324.0,162.60H334.0M43.3,183.04H48.7M326.3,183.04H331.7M43.3,178.16H48.7M326.3,178.16H331.7M43.3,174.37H48.7M326.3,174.37H331.7M43.3,171.27H48.7M326.3,171.27H331.7M43.3,168.66H48.7M326.3,168.66H331.7M43.3,166.39H48.7M326.3,166.39H331.7M43.3,164.39H48.7M326.3,164.39H331.7M107.50,3.6V8.8M107.50,187.4V192.6M107.50,248.0V253.2M164.99,3.6V8.8M164.99,187.4V192.6M164.99,248.0V253.2M205.79,3.6V8.8M205.79,187.4V192.6M205.79,248.0V253.2M237.43,3.6V8.8M237.43,187.4V192.6M237.43,248.0V253.2M263.28,3.6V8.8M263.28,187.4V192.6M263.28,248.0V253.2M285.14,3.6V8.8M285.14,187.4V192.6M285.14,248.0V253.2M304.07,3.6V8.8M304.07,187.4V192.6M304.07,248.0V253.2M320.77,3.6V8.8M320.77,187.4V192.6M320.77,248.0V253.2M41.0,190.0H46.0M41.0,220.4H46.0M41.0,250.6H46.0M329.0,220.4H334.0M329.0,190.0H334.0M329.0,250.6H334.0" stroke="#000" stroke-width="1.5" fill="none"/>
<text x="29.8" y="10.70" text-anchor="end" style="font-family:'Liberation Serif',serif;font-size:10px" fill="#111">10</text><text x="29.8" y="5.00" style="font-family:'Liberation Serif',serif;font-size:7px" fill="#111">−12</text>
<text x="29.8" y="49.80" text-anchor="end" style="font-family:'Liberation Serif',serif;font-size:10px" fill="#111">10</text><text x="29.8" y="44.10" style="font-family:'Liberation Serif',serif;font-size:7px" fill="#111">−13</text>
<text x="29.8" y="88.90" text-anchor="end" style="font-family:'Liberation Serif',serif;font-size:10px" fill="#111">10</text><text x="29.8" y="83.20" style="font-family:'Liberation Serif',serif;font-size:7px" fill="#111">−14</text>
<text x="29.8" y="128.00" text-anchor="end" style="font-family:'Liberation Serif',serif;font-size:10px" fill="#111">10</text><text x="29.8" y="122.30" style="font-family:'Liberation Serif',serif;font-size:7px" fill="#111">−15</text>
<text x="29.8" y="167.10" text-anchor="end" style="font-family:'Liberation Serif',serif;font-size:10px" fill="#111">10</text><text x="29.8" y="161.40" style="font-family:'Liberation Serif',serif;font-size:7px" fill="#111">−16</text>
<text x="40.0" y="193.50" text-anchor="end" style="font-family:'Liberation Serif',serif;font-size:9.9px" fill="#111">0.5</text>
<text x="40.0" y="223.90" text-anchor="end" style="font-family:'Liberation Serif',serif;font-size:9.9px" fill="#111">0.0</text>
<text x="40.0" y="254.10" text-anchor="end" style="font-family:'Liberation Serif',serif;font-size:9.9px" fill="#111">−0.5</text>
<text x="94.00" y="262.60" style="font-family:'Liberation Serif',serif;font-size:9.8px" fill="#111">2</text><text x="100.30" y="262.00" style="font-family:'Liberation Serif',serif;font-size:9px" fill="#111">×</text><text x="107.60" y="262.60" style="font-family:'Liberation Serif',serif;font-size:9.8px;letter-spacing:0.35px" fill="#111">10</text><text x="118.10" y="258.00" style="font-family:'Liberation Serif',serif;font-size:6.6px" fill="#111">3</text>
<text x="151.49" y="262.60" style="font-family:'Liberation Serif',serif;font-size:9.8px" fill="#111">3</text><text x="157.79" y="262.00" style="font-family:'Liberation Serif',serif;font-size:9px" fill="#111">×</text><text x="165.09" y="262.60" style="font-family:'Liberation Serif',serif;font-size:9.8px;letter-spacing:0.35px" fill="#111">10</text><text x="175.59" y="258.00" style="font-family:'Liberation Serif',serif;font-size:6.6px" fill="#111">3</text>
<text x="192.29" y="262.60" style="font-family:'Liberation Serif',serif;font-size:9.8px" fill="#111">4</text><text x="198.59" y="262.00" style="font-family:'Liberation Serif',serif;font-size:9px" fill="#111">×</text><text x="205.89" y="262.60" style="font-family:'Liberation Serif',serif;font-size:9.8px;letter-spacing:0.35px" fill="#111">10</text><text x="216.39" y="258.00" style="font-family:'Liberation Serif',serif;font-size:6.6px" fill="#111">3</text>
<text x="249.78" y="262.60" style="font-family:'Liberation Serif',serif;font-size:9.8px" fill="#111">6</text><text x="256.08" y="262.00" style="font-family:'Liberation Serif',serif;font-size:9px" fill="#111">×</text><text x="263.38" y="262.60" style="font-family:'Liberation Serif',serif;font-size:9.8px;letter-spacing:0.35px" fill="#111">10</text><text x="273.88" y="258.00" style="font-family:'Liberation Serif',serif;font-size:6.6px" fill="#111">3</text>
<text x="187.5" y="275.5" text-anchor="middle" style="font-family:'Liberation Serif',serif;font-size:11.5px" fill="#111">λ(Å)</text>
<text transform="translate(17,220.2) rotate(-90)" text-anchor="middle" style="font-family:'Liberation Serif',serif;font-size:10.8px" fill="#111">Residuals</text>
<text transform="translate(13.5,96.3) rotate(-90)" text-anchor="middle" style="font-family:'Liberation Serif',serif;font-size:11px" fill="#111">F<tspan dy="2.3" style="font-size:7.6px">λ</tspan><tspan dy="-2.3">(ergs/s/cm</tspan><tspan dy="-6" dx="0.8" style="font-size:7.6px">2</tspan><tspan dy="6" dx="0.8">/Å)</tspan></text>
<text x="147" y="30" style="font-family:'Liberation Serif',serif;font-size:12.45px" fill="#111">Star 34</text>
<text x="108.4" y="42" style="font-family:'Liberation Serif',serif;font-size:12.55px" fill="#111">Temperature = 24000 K</text>
<rect x="263.79999999999995" y="11" width="60.10000000000002" height="60.30000000000001" rx="2" fill="#fff" fill-opacity="0.85" stroke="#e6e6e6" stroke-width="0.8"/>
<line x1="266.8" y1="16.5" x2="287.2" y2="16.5" stroke="#777777" stroke-width="1.9"/>
<text x="293.75" y="19.8" style="font-family:'Liberation Serif',serif;font-size:9.2px" fill="#111">Model</text>
<ellipse cx="277.00" cy="28.20" rx="3.64" ry="3.40" fill="#ff0000"/>
<text x="293.75" y="31.5" style="font-family:'Liberation Serif',serif;font-size:9.2px" fill="#111">UVIT</text>
<rect x="273.22" y="36.60" width="7.57" height="6.60" fill="#bf00bf"/>
<text x="293.75" y="43.199999999999996" style="font-family:'Liberation Serif',serif;font-size:9.2px" fill="#111">Optical</text>
<path d="M277.00,47.51 L280.78,54.11 L273.22,54.11Z" fill="#ffa500"/>
<text x="293.75" y="54.89999999999999" style="font-family:'Liberation Serif',serif;font-size:9.2px" fill="#111">No fit</text>
<line x1="277" y1="59.0" x2="277" y2="67.6" stroke="#000" stroke-width="1.4"/><path d="M273,59.0H281M273,67.6H281" stroke="#bbb" stroke-width="0.8"/>
<text x="293.75" y="66.6" style="font-family:'Liberation Serif',serif;font-size:9.2px" fill="#111">3σ</text>
</g>
<line x1="46.7" y1="220.4" x2="329.0" y2="220.4" stroke="#000" stroke-width="2.1" stroke-linecap="round" stroke-dasharray="0,5.39"/>
<line x1="411.7" y1="220.4" x2="694.0" y2="220.4" stroke="#000" stroke-width="2.1" stroke-linecap="round" stroke-dasharray="0,5.39"/>
<line x1="46.7" y1="549.4" x2="329.0" y2="549.4" stroke="#000" stroke-width="2.1" stroke-linecap="round" stroke-dasharray="0,5.39"/>
<line x1="411.7" y1="549.4" x2="694.0" y2="549.4" stroke="#000" stroke-width="2.1" stroke-linecap="round" stroke-dasharray="0,5.39"/>
</svg></body></html>
